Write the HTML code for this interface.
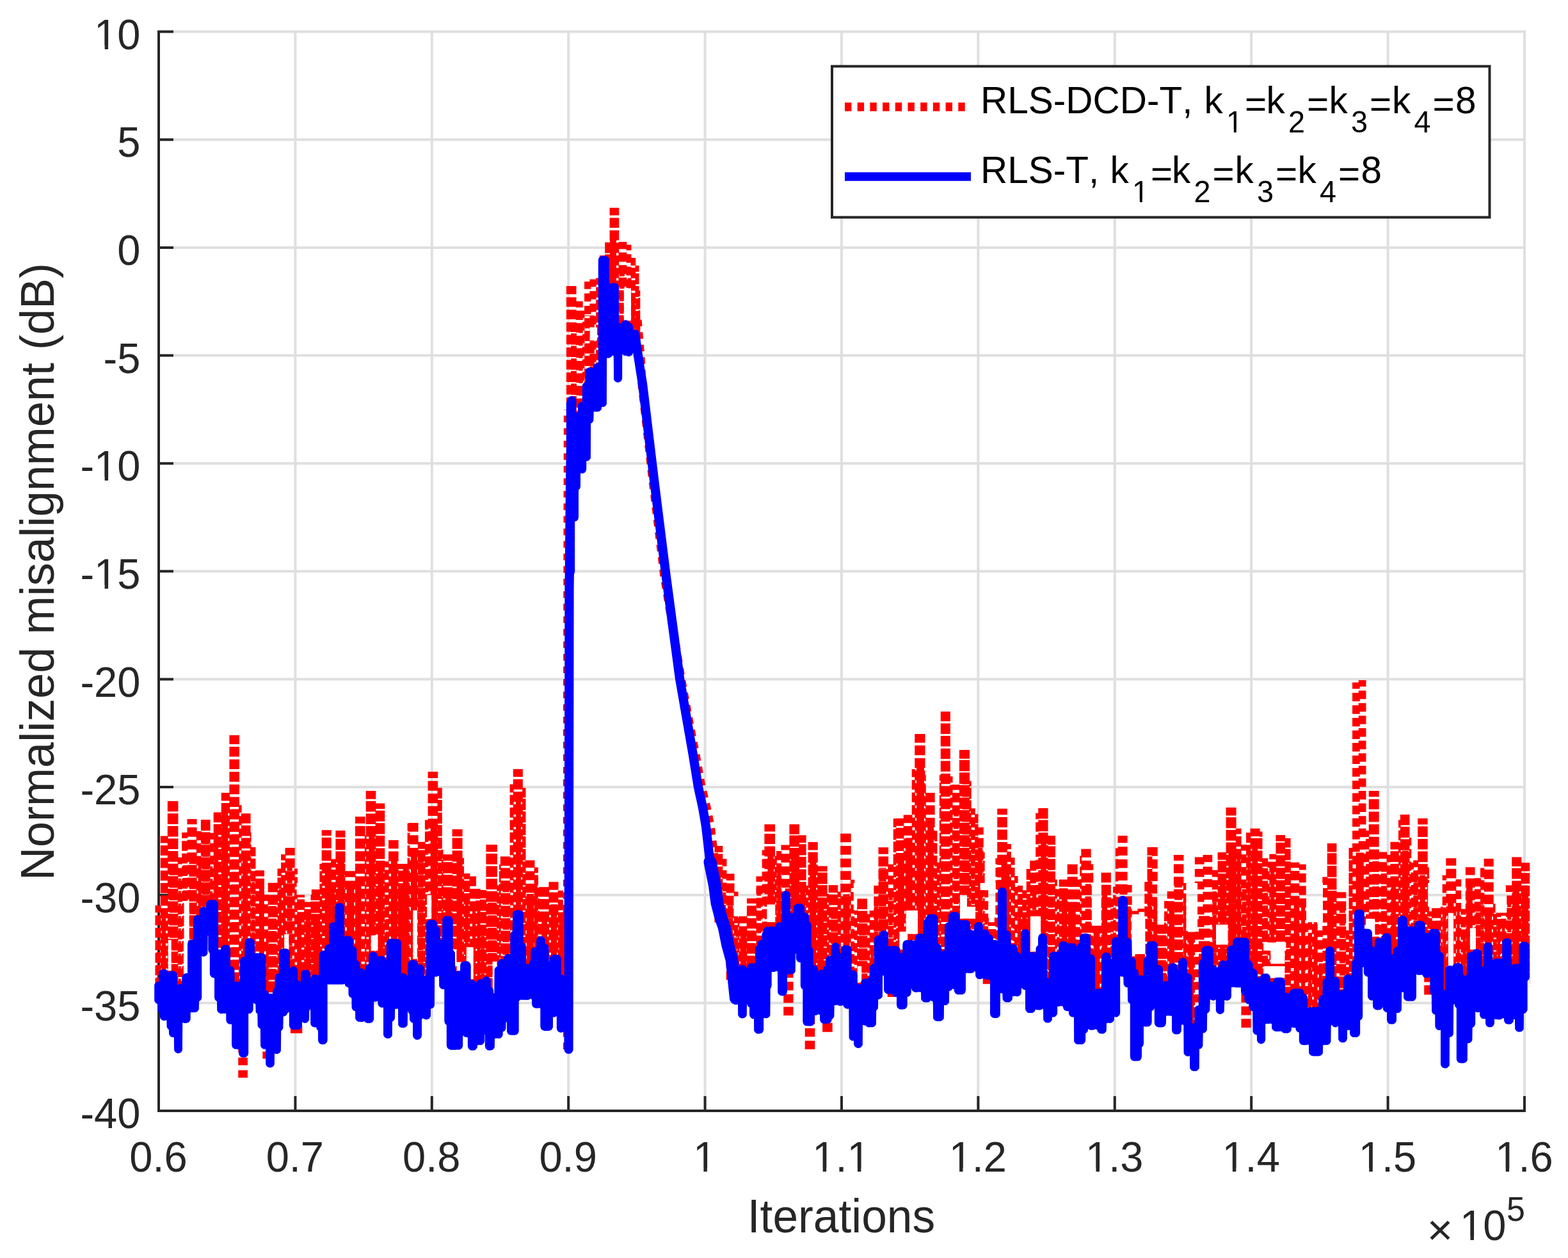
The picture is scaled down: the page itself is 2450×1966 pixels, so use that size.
<!DOCTYPE html>
<html><head><meta charset="utf-8"><title>Normalized misalignment</title>
<style>html,body{margin:0;padding:0;background:#fff}svg{display:block}</style></head>
<body>
<svg width="2450" height="1966" viewBox="0 0 2450 1966" font-family='"Liberation Sans", sans-serif' style="font-kerning:none">
<rect width="2450" height="1966" fill="#fff"/>
<path d="M248.0 47.6V1736.0M461.4 47.6V1736.0M674.8 47.6V1736.0M888.2 47.6V1736.0M1101.6 47.6V1736.0M1315.0 47.6V1736.0M1528.4 47.6V1736.0M1741.8 47.6V1736.0M1955.2 47.6V1736.0M2168.6 47.6V1736.0M2382.0 47.6V1736.0M248.0 49.6H2384.0M248.0 218.2H2384.0M248.0 386.9H2384.0M248.0 555.5H2384.0M248.0 724.2H2384.0M248.0 892.8H2384.0M248.0 1061.4H2384.0M248.0 1230.1H2384.0M248.0 1398.7H2384.0M248.0 1567.4H2384.0M248.0 1736.0H2384.0" stroke="#dfdfdf" stroke-width="4" fill="none"/>
<path d="M248.0 47.6V1738.0M246.0 1736.0H2384.0M461.4 1736.0v-23M674.8 1736.0v-23M888.2 1736.0v-23M1101.6 1736.0v-23M1315.0 1736.0v-23M1528.4 1736.0v-23M1741.8 1736.0v-23M1955.2 1736.0v-23M2168.6 1736.0v-23M2382.0 1736.0v-23M248.0 49.6h23M248.0 218.2h23M248.0 386.9h23M248.0 555.5h23M248.0 724.2h23M248.0 892.8h23M248.0 1061.4h23M248.0 1230.1h23M248.0 1398.7h23M248.0 1567.4h23" stroke="#262626" stroke-width="4" fill="none"/>
<g fill="none" stroke="#ff0000">
<clipPath id="rc"><path clip-rule="evenodd" d="M230.0 1760.0L241.0 1760.0L241.0 1551.6L246.0 1551.6L246.0 1559.0L248.0 1559.0L248.0 1549.3L251.0 1549.3L251.0 1554.9L261.0 1554.9L261.0 1562.3L262.0 1562.3L262.0 1563.7L268.0 1563.7L268.0 1569.2L272.0 1569.2L272.0 1581.8L273.0 1581.8L273.0 1596.6L275.0 1596.6L275.0 1592.0L285.0 1592.0L285.0 1568.3L286.0 1568.3L286.0 1560.0L293.0 1560.0L293.0 1537.7L286.8 1537.7L286.8 1469.1L287.3 1469.1L287.3 1409.7L295.7 1409.7L295.7 1469.1L294.2 1469.1L294.2 1533.5L296.0 1533.5L296.0 1525.2L303.0 1525.2L303.0 1506.2L311.0 1506.2L311.0 1497.8L314.0 1497.8L314.0 1456.1L322.0 1456.1L322.0 1434.9L326.0 1434.9L326.0 1448.8L331.0 1448.8L331.0 1467.4L335.0 1467.4L335.0 1485.9L338.0 1485.9L338.0 1524.7L339.0 1524.7L339.0 1534.0L345.0 1534.0L345.0 1530.3L354.0 1530.3L354.0 1538.6L360.0 1538.6L360.0 1555.3L362.0 1555.3L362.0 1574.8L366.0 1574.8L366.0 1586.9L373.0 1586.9L373.0 1593.4L376.0 1593.4L376.0 1573.9L384.0 1573.9L384.0 1559.5L387.0 1559.5L387.0 1525.2L394.0 1525.2L394.0 1517.8L398.0 1517.8L398.0 1529.4L400.0 1529.4L400.0 1537.7L406.0 1537.7L406.0 1548.8L409.0 1548.8L409.0 1564.6L412.0 1564.6L412.0 1593.4L415.0 1593.4L415.0 1607.7L418.0 1607.7L418.0 1610.5L427.0 1610.5L427.0 1605.9L429.0 1605.9L429.0 1595.2L433.0 1595.2L433.0 1584.1L438.0 1584.1L438.0 1566.5L439.0 1566.5L439.0 1535.6L446.0 1535.6L446.0 1533.2L453.0 1533.2L453.0 1559.5L464.0 1559.5L464.0 1570.6L471.0 1570.6L471.0 1562.3L472.0 1562.3L472.0 1557.2L482.0 1557.2L482.0 1548.8L485.0 1548.8L485.0 1564.1L494.0 1564.1L494.0 1567.4L497.0 1567.4L497.0 1577.6L499.0 1577.6L499.0 1559.0L507.0 1559.0L507.0 1553.9L511.0 1553.9L511.0 1507.1L514.0 1507.1L514.0 1489.9L523.0 1489.9L523.0 1474.9L538.0 1474.9L538.0 1500.6L541.0 1500.6L541.0 1502.9L548.0 1502.9L548.0 1511.3L549.0 1511.3L549.0 1519.1L554.0 1519.1L554.0 1540.5L555.0 1540.5L555.0 1548.8L558.0 1548.8L558.0 1555.3L568.0 1555.3L568.0 1556.3L572.0 1556.3L572.0 1552.5L576.0 1552.5L576.0 1543.1L583.0 1543.1L583.0 1526.4L590.0 1526.4L590.0 1529.8L593.0 1529.8L593.0 1534.5L599.0 1534.5L599.0 1558.6L601.0 1558.6L601.0 1575.7L606.0 1575.7L606.0 1545.1L613.0 1545.1L613.0 1532.1L615.0 1532.1L615.0 1521.9L622.0 1521.9L622.0 1536.8L627.0 1536.8L627.0 1563.7L637.0 1563.7L637.0 1543.1L641.0 1543.1L641.0 1549.6L645.0 1549.6L645.0 1562.6L652.0 1562.6L652.0 1566.0L659.0 1566.0L659.0 1550.2L663.0 1550.2L663.0 1559.0L668.0 1559.0L668.0 1515.3L673.0 1515.3L673.0 1506.9L677.0 1506.9L677.0 1481.9L683.0 1481.9L683.0 1486.7L686.0 1486.7L686.0 1496.4L688.0 1496.4L688.0 1506.6L691.0 1506.6L691.0 1488.7L697.0 1488.7L697.0 1517.0L701.0 1517.0L701.0 1536.0L705.0 1536.0L705.0 1562.3L708.0 1562.3L708.0 1575.3L711.0 1575.3L711.0 1592.0L714.0 1592.0L714.0 1579.0L719.0 1579.0L719.0 1553.3L725.0 1553.3L725.0 1561.6L732.0 1561.6L732.0 1571.8L733.0 1571.8L733.0 1586.4L743.0 1586.4L743.0 1598.9L746.0 1598.9L746.0 1594.7L748.0 1594.7L748.0 1581.8L753.0 1581.8L753.0 1571.7L758.0 1571.7L758.0 1583.8L767.0 1583.8L767.0 1591.5L771.0 1591.5L771.0 1597.1L773.0 1597.1L773.0 1587.8L777.0 1587.8L777.0 1566.5L781.0 1566.5L781.0 1555.8L787.0 1555.8L787.0 1544.5L792.0 1544.5L792.0 1554.4L801.0 1554.4L801.0 1536.0L804.0 1536.0L804.0 1520.1L807.0 1520.1L807.0 1493.9L811.0 1493.9L811.0 1492.5L818.0 1492.5L818.0 1517.8L822.0 1517.8L822.0 1534.5L827.0 1534.5L827.0 1530.7L829.0 1530.7L829.0 1521.5L831.0 1521.5L831.0 1528.0L838.0 1528.0L838.0 1519.4L847.0 1519.4L847.0 1537.1L852.0 1537.1L852.0 1542.8L855.0 1542.8L855.0 1555.8L859.0 1555.8L859.0 1564.1L862.0 1564.1L862.0 1551.4L864.0 1551.4L864.0 1540.8L869.0 1540.8L869.0 1534.3L872.0 1534.3L872.0 1552.8L877.0 1552.8L877.0 1568.3L881.0 1568.3L881.0 1760.0L886.0 1760.0L886.0 761.6L897.0 761.6L897.0 719.2L900.0 719.2L900.0 729.9L904.0 729.9L904.0 705.8L906.0 705.8L906.0 697.4L907.0 697.4L907.0 684.0L913.0 684.0L913.0 674.2L914.0 674.2L914.0 658.7L916.0 658.7L916.0 647.4L919.0 647.4L919.0 618.2L926.0 618.2L926.0 608.9L930.0 608.9L930.0 605.4L937.0 605.4L937.0 518.0L946.0 518.0L946.0 479.8L952.0 479.8L952.0 500.8L957.0 500.8L957.0 499.0L959.0 499.0L959.0 519.9L967.0 519.9L967.0 550.9L971.0 550.9L971.0 548.9L972.0 548.9L972.0 528.0L976.0 528.0L976.0 528.5L984.0 528.5L984.0 530.5L989.0 530.5L989.0 1760.0L1153.0 1760.0L1153.0 1549.8L1167.0 1549.8L1167.0 1540.0L1171.0 1540.0L1171.0 1548.8L1178.0 1548.8L1178.0 1560.4L1181.0 1560.4L1181.0 1546.0L1183.0 1546.0L1183.0 1542.3L1192.0 1542.3L1192.0 1530.3L1196.0 1530.3L1196.0 1522.9L1197.0 1522.9L1197.0 1519.8L1198.0 1519.8L1198.0 1497.5L1201.0 1497.5L1201.0 1483.6L1211.0 1483.6L1211.0 1480.2L1215.0 1480.2L1215.0 1498.7L1221.0 1498.7L1221.0 1474.2L1230.0 1474.2L1230.0 1457.5L1235.0 1457.5L1235.0 1474.6L1240.0 1474.6L1240.0 1467.5L1243.0 1467.5L1243.0 1451.7L1246.0 1451.7L1246.0 1458.2L1255.0 1458.2L1255.0 1486.7L1259.0 1486.7L1259.0 1515.0L1260.0 1515.0L1260.0 1521.5L1263.0 1521.5L1263.0 1540.9L1269.0 1540.9L1269.0 1555.8L1273.0 1555.8L1273.0 1547.4L1278.0 1547.4L1278.0 1551.2L1281.0 1551.2L1281.0 1557.6L1291.0 1557.6L1291.0 1553.9L1294.0 1553.9L1294.0 1546.5L1295.0 1546.5L1295.0 1543.3L1299.0 1543.3L1299.0 1533.2L1300.0 1533.2L1300.0 1522.1L1306.0 1522.1L1306.0 1522.6L1312.0 1522.6L1312.0 1530.7L1314.0 1530.7L1314.0 1524.5L1319.0 1524.5L1319.0 1526.8L1327.0 1526.8L1327.0 1551.9L1329.0 1551.9L1329.0 1571.6L1334.0 1571.6L1334.0 1577.1L1339.0 1577.1L1339.0 1587.8L1345.0 1587.8L1345.0 1583.6L1348.0 1583.6L1348.0 1566.0L1351.0 1566.0L1351.0 1567.4L1360.0 1567.4L1360.0 1565.1L1363.0 1565.1L1363.0 1555.8L1365.0 1555.8L1365.0 1543.3L1368.0 1543.3L1368.0 1534.0L1369.0 1534.0L1369.0 1511.7L1374.0 1511.7L1374.0 1508.0L1376.0 1508.0L1376.0 1489.5L1381.0 1489.5L1381.0 1503.8L1388.0 1503.8L1388.0 1515.9L1396.0 1515.9L1396.0 1518.2L1401.0 1518.2L1401.0 1528.0L1404.0 1528.0L1404.0 1541.9L1407.0 1541.9L1407.0 1533.1L1415.0 1533.1L1415.0 1513.6L1419.0 1513.6L1419.0 1507.1L1424.0 1507.1L1424.0 1509.9L1430.0 1509.9L1430.0 1504.8L1439.0 1504.8L1439.0 1512.7L1445.0 1512.7L1445.0 1501.1L1447.0 1501.1L1447.0 1497.5L1453.0 1497.5L1453.0 1478.5L1457.0 1478.5L1457.0 1497.1L1461.0 1497.1L1461.0 1535.4L1468.0 1535.4L1468.0 1554.9L1473.0 1554.9L1473.0 1540.5L1475.0 1540.5L1475.0 1528.0L1478.0 1528.0L1478.0 1506.2L1480.0 1506.2L1480.0 1495.0L1482.0 1495.0L1482.0 1487.0L1487.0 1487.0L1487.0 1463.8L1491.0 1463.8L1491.0 1486.0L1495.0 1486.0L1495.0 1496.0L1500.0 1496.0L1500.0 1496.1L1509.0 1496.1L1509.0 1479.4L1516.0 1479.4L1516.0 1487.1L1522.0 1487.1L1522.0 1480.9L1524.0 1480.9L1524.0 1485.6L1536.0 1485.6L1536.0 1491.3L1537.0 1491.3L1537.0 1491.8L1546.0 1491.8L1546.0 1495.5L1547.0 1495.5L1547.0 1525.5L1552.0 1525.5L1552.0 1530.1L1559.0 1530.1L1559.0 1489.0L1563.0 1489.0L1563.0 1469.7L1568.0 1469.7L1568.0 1476.7L1573.0 1476.7L1573.0 1510.3L1578.0 1510.3L1578.0 1521.0L1582.0 1521.0L1582.0 1516.4L1590.0 1516.4L1590.0 1522.4L1595.0 1522.4L1595.0 1504.6L1596.0 1504.6L1596.0 1499.5L1602.0 1499.5L1602.0 1517.6L1609.0 1517.6L1609.0 1535.6L1618.0 1535.6L1618.0 1533.2L1621.0 1533.2L1621.0 1527.5L1622.0 1527.5L1622.0 1518.7L1629.0 1518.7L1629.0 1516.8L1630.0 1516.8L1630.0 1528.7L1636.0 1528.7L1636.0 1563.5L1641.0 1563.5L1641.0 1542.9L1644.0 1542.9L1644.0 1538.4L1650.0 1538.4L1650.0 1530.1L1654.0 1530.1L1654.0 1521.9L1661.0 1521.9L1661.0 1525.6L1669.0 1525.6L1669.0 1527.2L1673.0 1527.2L1673.0 1531.9L1678.0 1531.9L1678.0 1553.2L1680.0 1553.2L1680.0 1582.2L1687.0 1582.2L1687.0 1552.5L1690.0 1552.5L1690.0 1545.6L1692.0 1545.6L1692.0 1537.2L1697.0 1537.2L1697.0 1521.5L1700.0 1521.5L1700.0 1534.3L1704.0 1534.3L1704.0 1550.5L1709.0 1550.5L1709.0 1577.4L1714.0 1577.4L1714.0 1580.4L1721.0 1580.4L1721.0 1552.1L1729.0 1552.1L1729.0 1543.7L1736.0 1543.7L1736.0 1548.8L1740.0 1548.8L1740.0 1531.7L1741.0 1531.7L1741.0 1527.0L1747.0 1527.0L1747.0 1463.3L1756.0 1463.3L1756.0 1471.7L1762.0 1471.7L1762.0 1504.3L1763.0 1504.3L1763.0 1517.3L1768.0 1517.3L1768.0 1532.6L1769.0 1532.6L1769.0 1577.1L1774.0 1577.1L1774.0 1585.9L1776.0 1585.9L1776.0 1591.3L1784.0 1591.3L1784.0 1581.1L1787.0 1581.1L1787.0 1564.4L1789.0 1564.4L1789.0 1549.8L1794.0 1549.8L1794.0 1537.7L1797.0 1537.7L1797.0 1525.6L1801.0 1525.6L1801.0 1510.8L1806.0 1510.8L1806.0 1538.2L1809.0 1538.2L1809.0 1556.7L1815.0 1556.7L1815.0 1569.2L1822.0 1569.2L1822.0 1560.4L1825.0 1560.4L1825.0 1546.5L1831.0 1546.5L1831.0 1560.9L1840.0 1560.9L1840.0 1566.0L1841.0 1566.0L1841.0 1556.7L1846.0 1556.7L1846.0 1549.3L1851.0 1549.3L1851.0 1573.9L1855.0 1573.9L1855.0 1585.9L1859.0 1585.9L1859.0 1597.5L1861.0 1597.5L1861.0 1636.5L1868.0 1636.5L1868.0 1622.6L1874.0 1622.6L1874.0 1605.4L1875.0 1605.4L1875.0 1569.2L1878.0 1569.2L1878.0 1556.7L1880.0 1556.7L1880.0 1546.5L1884.0 1546.5L1884.0 1531.2L1888.0 1531.2L1888.0 1518.2L1891.0 1518.2L1891.0 1521.0L1896.0 1521.0L1896.0 1535.8L1900.0 1535.8L1900.0 1547.4L1904.0 1547.4L1904.0 1543.0L1913.0 1543.0L1913.0 1532.3L1917.0 1532.3L1917.0 1520.5L1924.0 1520.5L1924.0 1510.3L1926.0 1510.3L1926.0 1504.3L1940.0 1504.3L1940.0 1510.8L1946.0 1510.8L1946.0 1517.3L1951.0 1517.3L1951.0 1534.9L1954.0 1534.9L1954.0 1540.5L1956.0 1540.5L1956.0 1547.0L1960.0 1547.0L1960.0 1565.5L1962.0 1565.5L1962.0 1572.0L1964.0 1572.0L1964.0 1579.0L1968.0 1579.0L1968.0 1579.9L1971.0 1579.9L1971.0 1576.4L1977.0 1576.4L1977.0 1561.1L1980.0 1561.1L1980.0 1560.6L1985.0 1560.6L1985.0 1566.9L1987.0 1566.9L1987.0 1572.9L1989.0 1572.9L1989.0 1569.7L2001.0 1569.7L2001.0 1571.1L2008.0 1571.1L2008.0 1583.2L2015.0 1583.2L2015.0 1579.9L2018.0 1579.9L2018.0 1575.7L2028.0 1575.7L2028.0 1579.4L2033.0 1579.4L2033.0 1589.2L2034.0 1589.2L2034.0 1592.9L2040.0 1592.9L2040.0 1603.6L2045.0 1603.6L2045.0 1612.2L2054.0 1612.2L2054.0 1611.7L2060.0 1611.7L2060.0 1602.9L2067.0 1602.9L2067.0 1594.3L2068.0 1594.3L2068.0 1580.8L2071.0 1580.8L2071.0 1556.3L2078.0 1556.3L2078.0 1540.9L2081.0 1540.9L2081.0 1542.3L2085.0 1542.3L2085.0 1566.0L2091.0 1566.0L2091.0 1578.1L2092.0 1578.1L2092.0 1588.3L2099.0 1588.3L2099.0 1576.2L2105.0 1576.2L2105.0 1566.5L2109.0 1566.5L2109.0 1572.0L2113.0 1572.0L2113.0 1560.0L2118.0 1560.0L2118.0 1521.2L2124.0 1521.2L2124.0 1508.2L2127.0 1508.2L2127.0 1466.9L2132.0 1466.9L2132.0 1482.0L2133.0 1482.0L2133.0 1489.0L2137.0 1489.0L2137.0 1507.6L2142.0 1507.6L2142.0 1521.5L2145.0 1521.5L2145.0 1528.9L2150.0 1528.9L2150.0 1521.9L2159.0 1521.9L2159.0 1508.2L2162.0 1508.2L2162.0 1520.3L2167.0 1520.3L2167.0 1529.5L2173.0 1529.5L2173.0 1546.0L2178.0 1546.0L2178.0 1540.0L2182.0 1540.0L2182.0 1531.2L2184.0 1531.2L2184.0 1507.1L2189.0 1507.1L2189.0 1490.9L2193.0 1490.9L2193.0 1497.8L2199.0 1497.8L2199.0 1506.2L2210.0 1506.2L2210.0 1501.8L2213.0 1501.8L2213.0 1481.4L2222.0 1481.4L2222.0 1483.7L2227.0 1483.7L2227.0 1493.2L2232.0 1493.2L2232.0 1489.9L2236.0 1489.9L2236.0 1503.8L2241.0 1503.8L2241.0 1518.7L2246.0 1518.7L2246.0 1548.4L2251.0 1548.4L2251.0 1578.1L2252.0 1578.1L2252.0 1608.2L2261.0 1608.2L2261.0 1589.2L2265.0 1589.2L2265.0 1565.1L2268.0 1565.1L2268.0 1540.9L2269.0 1540.9L2269.0 1539.1L2272.0 1539.1L2272.0 1533.5L2276.0 1533.5L2276.0 1540.9L2278.0 1540.9L2278.0 1583.4L2283.0 1583.4L2283.0 1591.3L2287.0 1591.3L2287.0 1601.5L2291.0 1601.5L2291.0 1592.2L2293.0 1592.2L2293.0 1576.7L2297.0 1576.7L2297.0 1547.0L2300.0 1547.0L2300.0 1520.5L2305.0 1520.5L2305.0 1532.6L2312.0 1532.6L2312.0 1537.7L2313.0 1537.7L2313.0 1551.2L2318.0 1551.2L2318.0 1532.6L2321.0 1532.6L2321.0 1539.1L2332.0 1539.1L2332.0 1551.6L2335.0 1551.6L2335.0 1545.6L2347.0 1545.6L2347.0 1529.8L2350.0 1529.8L2350.0 1533.5L2362.0 1533.5L2362.0 1553.5L2365.0 1553.5L2365.0 1549.8L2367.0 1549.8L2367.0 1559.5L2375.0 1559.5L2375.0 1542.3L2381.0 1542.3L2381.0 1528.0L2385.0 1528.0L2385.0 1502.9L2390.0 1502.9L2390.0 1760.0L2406.0 1760.0L2406.0 0.0L225.0 0.0ZM986.0 450.6L986.0 501.3L974.7 501.3L974.7 450.6ZM933.1 511.5L933.1 531.9L921.4 531.9L921.4 511.5ZM486.8 1380.0L486.8 1398.6L463.6 1398.6L463.6 1380.0ZM667.1 1398.6L674.5 1398.6L674.5 1435.7L667.1 1435.7ZM651.9 1422.7L651.9 1498.7L645.2 1498.7L645.2 1422.7ZM451.5 1459.8L451.5 1483.9L444.1 1483.9L444.1 1459.8ZM590.6 1461.6L590.6 1485.8L579.5 1485.8L579.5 1461.6ZM262.6 1469.1L267.8 1469.1L267.8 1517.3L262.6 1517.3ZM707.9 1483.9L713.5 1483.9L713.5 1503.4L728.3 1503.4L728.3 1517.3L713.5 1517.3L713.5 1509.9L707.9 1509.9ZM739.8 1480.2L739.8 1530.3L728.7 1530.3L728.7 1480.2ZM769.5 1502.4L776.6 1502.4L776.6 1552.5L769.5 1552.5ZM1151.9 1380.0L1181.6 1380.0L1181.6 1387.4L1151.9 1387.4ZM1555.7 1380.0L1555.7 1391.1L1531.5 1391.1L1531.5 1380.0ZM1333.8 1422.7L1333.8 1380.0L1339.3 1380.0L1355.1 1380.0L1365.3 1380.0L1365.3 1422.7L1355.1 1422.7L1355.1 1404.1L1339.3 1404.1L1339.3 1422.7ZM1146.4 1400.4L1166.8 1400.4L1166.8 1431.9L1146.4 1431.9ZM1500.0 1398.6L1511.1 1398.6L1511.1 1417.1L1524.1 1417.1L1524.1 1435.7L1511.1 1435.7L1500.0 1435.7ZM1211.3 1413.4L1211.3 1441.2L1198.3 1441.2L1198.3 1413.4ZM1553.8 1417.1L1553.8 1441.2L1544.9 1441.2L1544.9 1417.1ZM1415.4 1422.7L1434.0 1422.7L1434.0 1459.8L1418.2 1459.8L1418.2 1483.9L1405.2 1483.9L1405.2 1456.1L1415.4 1456.1ZM1609.8 1431.9L1626.2 1431.9L1626.2 1487.6L1609.8 1487.6ZM1346.4 1509.9L1346.4 1535.8L1339.7 1535.8L1339.7 1509.9ZM2252.5 1380.0L2252.5 1417.1L2231.2 1417.1L2231.2 1380.0ZM2041.0 1380.0L2067.0 1380.0L2067.0 1441.2L2041.0 1441.2ZM1808.3 1380.0L1819.1 1380.0L1819.1 1444.9L1808.3 1444.9ZM2354.3 1398.6L2354.3 1426.4L2336.6 1426.4L2336.6 1398.6ZM1720.8 1380.0L1720.8 1446.8L1705.9 1446.8L1705.9 1380.0ZM1871.1 1380.0L1871.1 1454.2L1853.4 1454.2L1853.4 1380.0ZM2134.1 1435.7L2148.6 1435.7L2148.6 1463.5L2134.1 1463.5ZM1900.0 1444.9L1918.6 1444.9L1918.6 1476.5L1900.0 1476.5ZM1789.4 1431.9L1789.4 1491.3L1768.1 1491.3L1768.1 1431.9ZM2296.8 1450.5L2306.0 1450.5L2306.0 1483.9L2296.8 1483.9ZM2262.7 1426.4L2271.1 1426.4L2271.1 1509.9L2262.7 1509.9ZM1974.2 1485.8L1974.2 1472.8L2009.5 1472.8L2009.5 1485.8L2007.6 1485.8L2007.6 1506.2L1985.3 1506.2L1985.3 1485.8ZM1974.2 1509.9L2007.6 1509.9L2007.6 1528.4L1974.2 1528.4Z"/></clipPath>
<g clip-path="url(#rc)">
<path d="M247.0 1415.0V1559.0" stroke-width="9.1" stroke-dasharray="15.5 4.1" stroke-dashoffset="4.2"/>
<path d="M247.4 1472.0V1559.0" stroke-width="5.9" stroke-dasharray="16.1 3.5" stroke-dashoffset="3.6"/>
<path d="M256.7 1306.5V1562.3" stroke-width="11.9" stroke-dasharray="15.8 3.8" stroke-dashoffset="4.9"/>
<path d="M256.0 1426.9V1562.3" stroke-width="6.3" stroke-dasharray="13.9 5.7" stroke-dashoffset="15.9"/>
<path d="M270.1 1252.1V1596.6" stroke-width="16.6" stroke-dasharray="16.6 3.0" stroke-dashoffset="0.4"/>
<path d="M271.1 1354.6V1596.6" stroke-width="13.1" stroke-dasharray="16.3 3.3" stroke-dashoffset="3.1"/>
<path d="M281.3 1339.9V1592.0" stroke-width="7.3" stroke-dasharray="13.6 6.0" stroke-dashoffset="2.9"/>
<path d="M280.8 1362.2V1592.0" stroke-width="4.1" stroke-dasharray="13.6 6.0" stroke-dashoffset="9.1"/>
<path d="M288.7 1300.9V1568.3" stroke-width="9.1" stroke-dasharray="15.5 4.1" stroke-dashoffset="6.3"/>
<path d="M289.1 1341.7V1568.3" stroke-width="6.3" stroke-dasharray="16.5 3.1" stroke-dashoffset="9.0"/>
<path d="M300.0 1280.1V1533.5" stroke-width="15.1" stroke-dasharray="14.8 4.8" stroke-dashoffset="6.7"/>
<path d="M301.2 1339.9V1533.5" stroke-width="11.3" stroke-dasharray="14.9 4.7" stroke-dashoffset="4.5"/>
<path d="M310.7 1299.0V1506.2" stroke-width="7.9" stroke-dasharray="14.8 4.8" stroke-dashoffset="0.5"/>
<path d="M312.1 1349.7V1506.2" stroke-width="4.9" stroke-dasharray="15.2 4.4" stroke-dashoffset="18.8"/>
<path d="M321.2 1281.0V1456.1" stroke-width="14.7" stroke-dasharray="17.3 2.3" stroke-dashoffset="0.0"/>
<path d="M321.5 1309.4V1456.1" stroke-width="11.4" stroke-dasharray="17.9 1.7" stroke-dashoffset="7.8"/>
<path d="M331.1 1301.8V1467.4" stroke-width="6.7" stroke-dasharray="13.8 5.8" stroke-dashoffset="3.7"/>
<path d="M330.3 1353.0V1467.4" stroke-width="3.9" stroke-dasharray="15.0 4.6" stroke-dashoffset="18.9"/>
<path d="M340.1 1269.4V1534.0" stroke-width="12.9" stroke-dasharray="16.9 2.7" stroke-dashoffset="1.1"/>
<path d="M337.8 1299.2V1534.0" stroke-width="6.8" stroke-dasharray="17.1 2.5" stroke-dashoffset="3.5"/>
<path d="M352.4 1239.1V1538.6" stroke-width="13.4" stroke-dasharray="16.0 3.6" stroke-dashoffset="3.6"/>
<path d="M351.4 1266.7V1538.6" stroke-width="9.7" stroke-dasharray="16.4 3.2" stroke-dashoffset="2.3"/>
<path d="M366.2 1149.1V1593.4" stroke-width="15.6" stroke-dasharray="15.4 4.2" stroke-dashoffset="1.6"/>
<path d="M367.6 1262.3V1593.4" stroke-width="12.4" stroke-dasharray="14.9 4.7" stroke-dashoffset="17.3"/>
<path d="M375.4 1258.2V1593.4" stroke-width="4.5" stroke-dasharray="14.4 5.2" stroke-dashoffset="2.5"/>
<path d="M384.2 1271.2V1573.9" stroke-width="14.7" stroke-dasharray="16.4 3.2" stroke-dashoffset="0.8"/>
<path d="M383.1 1330.8V1573.9" stroke-width="8.3" stroke-dasharray="17.0 2.6" stroke-dashoffset="6.4"/>
<path d="M391.7 1300.9V1525.2" stroke-width="1.7" stroke-dasharray="14.8 4.8" stroke-dashoffset="0.5"/>
<path d="M395.6 1324.1V1529.4" stroke-width="7.7" stroke-dasharray="16.1 3.5" stroke-dashoffset="2.0"/>
<path d="M395.8 1368.1V1529.4" stroke-width="4.7" stroke-dasharray="17.8 1.8" stroke-dashoffset="9.5"/>
<path d="M405.8 1360.3V1593.4" stroke-width="14.3" stroke-dasharray="16.1 3.5" stroke-dashoffset="7.0"/>
<path d="M408.8 1387.6V1593.4" stroke-width="7.8" stroke-dasharray="17.2 2.4" stroke-dashoffset="4.9"/>
<path d="M415.8 1398.3V1610.5" stroke-width="7.3" stroke-dasharray="14.4 5.2" stroke-dashoffset="4.7"/>
<path d="M417.6 1455.9V1610.5" stroke-width="4.1" stroke-dasharray="17.5 2.1" stroke-dashoffset="11.8"/>
<path d="M426.5 1379.7V1610.5" stroke-width="15.6" stroke-dasharray="15.4 4.2" stroke-dashoffset="0.8"/>
<path d="M426.0 1401.3V1610.5" stroke-width="12.3" stroke-dasharray="16.7 2.9" stroke-dashoffset="5.0"/>
<path d="M436.7 1357.5V1584.1" stroke-width="6.4" stroke-dasharray="17.2 2.4" stroke-dashoffset="5.5"/>
<path d="M437.7 1389.2V1584.1" stroke-width="3.5" stroke-dasharray="13.8 5.8" stroke-dashoffset="4.5"/>
<path d="M442.7 1335.2V1535.6" stroke-width="7.3" stroke-dasharray="16.0 3.6" stroke-dashoffset="6.8"/>
<path d="M444.4 1379.8V1535.6" stroke-width="4.3" stroke-dasharray="14.4 5.2" stroke-dashoffset="0.3"/>
<path d="M453.1 1325.0V1559.5" stroke-width="15.1" stroke-dasharray="14.7 4.9" stroke-dashoffset="3.0"/>
<path d="M452.6 1347.4V1559.5" stroke-width="8.3" stroke-dasharray="16.1 3.5" stroke-dashoffset="2.6"/>
<path d="M462.4 1357.5V1559.5" stroke-width="5.1" stroke-dasharray="15.1 4.5" stroke-dashoffset="6.4"/>
<path d="M470.1 1391.8V1570.6" stroke-width="11.9" stroke-dasharray="16.5 3.1" stroke-dashoffset="5.8"/>
<path d="M467.9 1435.2V1570.6" stroke-width="6.5" stroke-dasharray="13.6 6.0" stroke-dashoffset="17.8"/>
<path d="M480.7 1409.4V1564.1" stroke-width="11.0" stroke-dasharray="16.7 2.9" stroke-dashoffset="8.3"/>
<path d="M481.1 1430.3V1564.1" stroke-width="7.6" stroke-dasharray="16.8 2.8" stroke-dashoffset="6.3"/>
<path d="M492.8 1389.9V1577.6" stroke-width="14.7" stroke-dasharray="18.0 1.6" stroke-dashoffset="0.8"/>
<path d="M494.8 1431.8V1577.6" stroke-width="10.6" stroke-dasharray="16.8 2.8" stroke-dashoffset="13.8"/>
<path d="M501.4 1350.1V1559.0" stroke-width="4.1" stroke-dasharray="17.1 2.5" stroke-dashoffset="8.3"/>
<path d="M510.2 1297.2V1559.0" stroke-width="15.1" stroke-dasharray="16.6 3.0" stroke-dashoffset="7.7"/>
<path d="M512.3 1352.0V1559.0" stroke-width="9.4" stroke-dasharray="17.4 2.2" stroke-dashoffset="11.2"/>
<path d="M521.1 1342.6V1489.9" stroke-width="8.2" stroke-dasharray="16.3 3.3" stroke-dashoffset="3.2"/>
<path d="M520.4 1385.9V1489.9" stroke-width="5.6" stroke-dasharray="16.4 3.2" stroke-dashoffset="19.5"/>
<path d="M531.9 1298.1V1500.6" stroke-width="15.1" stroke-dasharray="17.5 2.1" stroke-dashoffset="6.9"/>
<path d="M532.7 1333.6V1500.6" stroke-width="10.9" stroke-dasharray="15.5 4.1" stroke-dashoffset="16.4"/>
<path d="M547.2 1361.2V1540.5" stroke-width="17.1" stroke-dasharray="13.9 5.7" stroke-dashoffset="4.4"/>
<path d="M547.5 1382.4V1540.5" stroke-width="11.7" stroke-dasharray="14.5 5.1" stroke-dashoffset="13.7"/>
<path d="M562.8 1276.2V1556.3" stroke-width="15.6" stroke-dasharray="15.7 3.9" stroke-dashoffset="4.8"/>
<path d="M560.0 1375.0V1556.3" stroke-width="9.0" stroke-dasharray="14.9 4.7" stroke-dashoffset="13.3"/>
<path d="M571.2 1305.5V1556.3" stroke-width="2.7" stroke-dasharray="14.4 5.2" stroke-dashoffset="1.1"/>
<path d="M579.5 1236.0V1552.5" stroke-width="15.6" stroke-dasharray="16.5 3.1" stroke-dashoffset="3.7"/>
<path d="M581.0 1291.6V1552.5" stroke-width="9.4" stroke-dasharray="14.4 5.2" stroke-dashoffset="8.4"/>
<path d="M593.9 1255.4V1558.6" stroke-width="14.7" stroke-dasharray="17.1 2.5" stroke-dashoffset="8.3"/>
<path d="M594.8 1359.5V1558.6" stroke-width="9.1" stroke-dasharray="14.9 4.7" stroke-dashoffset="2.7"/>
<path d="M604.1 1346.3V1575.7" stroke-width="7.3" stroke-dasharray="15.7 3.9" stroke-dashoffset="6.5"/>
<path d="M605.4 1400.3V1575.7" stroke-width="5.2" stroke-dasharray="14.7 4.9" stroke-dashoffset="3.3"/>
<path d="M614.8 1312.9V1545.1" stroke-width="15.6" stroke-dasharray="15.5 4.1" stroke-dashoffset="2.1"/>
<path d="M615.9 1341.5V1545.1" stroke-width="9.8" stroke-dasharray="15.7 3.9" stroke-dashoffset="6.2"/>
<path d="M629.6 1350.1V1563.7" stroke-width="15.6" stroke-dasharray="17.3 2.3" stroke-dashoffset="9.1"/>
<path d="M626.5 1388.2V1563.7" stroke-width="8.2" stroke-dasharray="17.4 2.2" stroke-dashoffset="0.8"/>
<path d="M638.5 1287.0V1543.1" stroke-width="3.8" stroke-dasharray="16.7 2.9" stroke-dashoffset="5.0"/>
<path d="M634.2 1350.1V1563.7" stroke-width="9.1" stroke-dasharray="17.1 2.5" stroke-dashoffset="0.2"/>
<path d="M633.0 1375.5V1563.7" stroke-width="5.8" stroke-dasharray="17.2 2.4" stroke-dashoffset="4.7"/>
<path d="M645.8 1286.0V1566.0" stroke-width="15.6" stroke-dasharray="14.1 5.5" stroke-dashoffset="0.3"/>
<path d="M646.9 1331.2V1566.0" stroke-width="9.9" stroke-dasharray="16.4 3.2" stroke-dashoffset="15.8"/>
<path d="M658.8 1315.7V1566.0" stroke-width="11.9" stroke-dasharray="17.8 1.8" stroke-dashoffset="6.7"/>
<path d="M657.8 1343.7V1566.0" stroke-width="7.7" stroke-dasharray="13.5 6.1" stroke-dashoffset="9.3"/>
<path d="M666.6 1281.4V1559.0" stroke-width="5.4" stroke-dasharray="16.7 2.9" stroke-dashoffset="1.6"/>
<path d="M676.4 1205.9V1515.3" stroke-width="15.6" stroke-dasharray="15.1 4.5" stroke-dashoffset="4.9"/>
<path d="M678.0 1289.2V1515.3" stroke-width="10.7" stroke-dasharray="15.3 4.3" stroke-dashoffset="15.5"/>
<path d="M687.1 1231.3V1506.6" stroke-width="7.3" stroke-dasharray="17.6 2.0" stroke-dashoffset="0.8"/>
<path d="M686.7 1341.8V1506.6" stroke-width="5.2" stroke-dasharray="15.5 4.1" stroke-dashoffset="12.3"/>
<path d="M691.2 1327.8V1506.6" stroke-width="2.7" stroke-dasharray="17.6 2.0" stroke-dashoffset="3.6"/>
<path d="M699.6 1335.2V1562.3" stroke-width="15.6" stroke-dasharray="17.5 2.1" stroke-dashoffset="7.5"/>
<path d="M700.8 1393.0V1562.3" stroke-width="10.0" stroke-dasharray="14.4 5.2" stroke-dashoffset="14.1"/>
<path d="M714.6 1295.9V1592.0" stroke-width="16.0" stroke-dasharray="17.2 2.4" stroke-dashoffset="5.9"/>
<path d="M717.8 1344.6V1592.0" stroke-width="9.0" stroke-dasharray="17.9 1.7" stroke-dashoffset="19.2"/>
<path d="M723.4 1340.8V1553.3" stroke-width="3.2" stroke-dasharray="15.9 3.7" stroke-dashoffset="6.3"/>
<path d="M729.3 1364.9V1586.4" stroke-width="10.1" stroke-dasharray="17.6 2.0" stroke-dashoffset="8.2"/>
<path d="M729.4 1398.8V1586.4" stroke-width="5.3" stroke-dasharray="16.0 3.6" stroke-dashoffset="15.1"/>
<path d="M738.7 1369.5V1598.9" stroke-width="10.4" stroke-dasharray="15.7 3.9" stroke-dashoffset="0.2"/>
<path d="M740.6 1421.9V1598.9" stroke-width="5.4" stroke-dasharray="14.3 5.3" stroke-dashoffset="6.6"/>
<path d="M746.9 1389.0V1598.9" stroke-width="7.5" stroke-dasharray="17.0 2.6" stroke-dashoffset="1.3"/>
<path d="M747.9 1415.0V1598.9" stroke-width="4.9" stroke-dasharray="17.3 2.3" stroke-dashoffset="13.5"/>
<path d="M755.0 1390.9V1583.8" stroke-width="10.4" stroke-dasharray="17.8 1.8" stroke-dashoffset="4.8"/>
<path d="M754.1 1448.8V1583.8" stroke-width="5.5" stroke-dasharray="15.9 3.7" stroke-dashoffset="5.7"/>
<path d="M768.2 1320.0V1597.1" stroke-width="17.5" stroke-dasharray="16.8 2.8" stroke-dashoffset="5.6"/>
<path d="M768.9 1398.7V1597.1" stroke-width="13.2" stroke-dasharray="14.9 4.7" stroke-dashoffset="7.5"/>
<path d="M778.4 1383.5V1566.5" stroke-width="4.5" stroke-dasharray="17.3 2.3" stroke-dashoffset="8.4"/>
<path d="M781.2 1351.0V1566.5" stroke-width="2.7" stroke-dasharray="17.3 2.3" stroke-dashoffset="9.0"/>
<path d="M789.6 1338.6V1555.8" stroke-width="15.6" stroke-dasharray="16.1 3.5" stroke-dashoffset="1.6"/>
<path d="M790.5 1380.0V1555.8" stroke-width="10.2" stroke-dasharray="13.6 6.0" stroke-dashoffset="19.0"/>
<path d="M799.6 1225.8V1554.4" stroke-width="6.0" stroke-dasharray="15.8 3.8" stroke-dashoffset="3.1"/>
<path d="M809.3 1202.0V1536.0" stroke-width="15.1" stroke-dasharray="16.0 3.6" stroke-dashoffset="3.9"/>
<path d="M810.0 1249.6V1536.0" stroke-width="7.8" stroke-dasharray="15.4 4.2" stroke-dashoffset="18.8"/>
<path d="M818.8 1231.3V1517.8" stroke-width="5.4" stroke-dasharray="17.7 1.9" stroke-dashoffset="2.6"/>
<path d="M828.1 1344.5V1534.5" stroke-width="14.7" stroke-dasharray="14.1 5.5" stroke-dashoffset="2.6"/>
<path d="M828.4 1397.1V1534.5" stroke-width="11.3" stroke-dasharray="14.9 4.7" stroke-dashoffset="3.8"/>
<path d="M837.8 1355.6V1528.0" stroke-width="6.4" stroke-dasharray="16.3 3.3" stroke-dashoffset="7.7"/>
<path d="M837.4 1380.8V1528.0" stroke-width="4.7" stroke-dasharray="14.4 5.2" stroke-dashoffset="4.5"/>
<path d="M841.5 1387.2V1519.4" stroke-width="2.7" stroke-dasharray="16.6 3.0" stroke-dashoffset="2.8"/>
<path d="M850.1 1386.2V1555.8" stroke-width="16.2" stroke-dasharray="16.3 3.3" stroke-dashoffset="0.9"/>
<path d="M850.6 1435.5V1555.8" stroke-width="8.7" stroke-dasharray="14.6 5.0" stroke-dashoffset="3.9"/>
<path d="M865.0 1378.3V1564.1" stroke-width="15.1" stroke-dasharray="15.9 3.7" stroke-dashoffset="3.4"/>
<path d="M865.5 1413.3V1564.1" stroke-width="9.4" stroke-dasharray="14.2 5.4" stroke-dashoffset="4.0"/>
<path d="M875.8 1391.8V1568.3" stroke-width="8.2" stroke-dasharray="16.3 3.3" stroke-dashoffset="5.3"/>
<path d="M876.5 1433.0V1568.3" stroke-width="6.2" stroke-dasharray="17.4 2.2" stroke-dashoffset="4.6"/>
<path d="M880.7 1424.3V1568.3" stroke-width="3.2" stroke-dasharray="16.8 2.8" stroke-dashoffset="7.2"/>
<path d="M892.7 447.1V761.6" stroke-width="15.6" stroke-dasharray="14.9 4.7" stroke-dashoffset="2.2"/>
<path d="M896.5 504.0V761.6" stroke-width="8.8" stroke-dasharray="17.5 2.1" stroke-dashoffset="2.6"/>
<path d="M905.2 470.7V729.9" stroke-width="11.0" stroke-dasharray="14.6 5.0" stroke-dashoffset="4.8"/>
<path d="M907.3 501.1V729.9" stroke-width="5.8" stroke-dasharray="15.4 4.2" stroke-dashoffset="15.5"/>
<path d="M911.7 485.5V684.0" stroke-width="3.6" stroke-dasharray="14.1 5.5" stroke-dashoffset="2.4"/>
<path d="M918.2 439.9V674.2" stroke-width="10.3" stroke-dasharray="12.9 6.7" stroke-dashoffset="1.1"/>
<path d="M926.5 436.4V674.2" stroke-width="10.3" stroke-dasharray="12.9 6.7" stroke-dashoffset="1.1"/>
<path d="M921.2 492.8V674.2" stroke-width="15.3" stroke-dasharray="15.8 3.8" stroke-dashoffset="14.9"/>
<path d="M934.4 434.5V605.4" stroke-width="6.4" stroke-dasharray="15.8 3.8" stroke-dashoffset="5.3"/>
<path d="M933.6 462.1V605.4" stroke-width="3.3" stroke-dasharray="13.7 5.9" stroke-dashoffset="10.8"/>
<path d="M941.4 399.3V518.0" stroke-width="9.1" stroke-dasharray="15.8 3.8" stroke-dashoffset="4.4"/>
<path d="M940.6 425.1V518.0" stroke-width="5.1" stroke-dasharray="17.3 2.3" stroke-dashoffset="19.4"/>
<path d="M949.3 378.8V500.8" stroke-width="8.2" stroke-dasharray="17.7 1.9" stroke-dashoffset="0.9"/>
<path d="M949.6 401.3V500.8" stroke-width="6.5" stroke-dasharray="16.9 2.7" stroke-dashoffset="6.4"/>
<path d="M959.9 324.7V519.9" stroke-width="14.7" stroke-dasharray="15.6 4.0" stroke-dashoffset="3.9"/>
<path d="M958.0 361.9V519.9" stroke-width="10.0" stroke-dasharray="16.7 2.9" stroke-dashoffset="16.5"/>
<path d="M972.9 377.9V550.9" stroke-width="12.9" stroke-dasharray="14.3 5.3" stroke-dashoffset="2.9"/>
<path d="M971.8 427.5V550.9" stroke-width="8.0" stroke-dasharray="14.2 5.4" stroke-dashoffset="10.0"/>
<path d="M982.5 382.6V530.5" stroke-width="7.9" stroke-dasharray="13.6 6.0" stroke-dashoffset="5.0"/>
<path d="M983.7 434.6V530.5" stroke-width="5.6" stroke-dasharray="16.3 3.3" stroke-dashoffset="7.9"/>
<path d="M989.4 403.0V530.5" stroke-width="7.7" stroke-dasharray="16.2 3.4" stroke-dashoffset="4.1"/>
<path d="M989.3 462.3V530.5" stroke-width="5.7" stroke-dasharray="17.6 2.0" stroke-dashoffset="14.6"/>
<path d="M995.5 415.0V562.8" stroke-width="6.0" stroke-dasharray="17.0 2.6" stroke-dashoffset="7.3"/>
<path d="M999.0 454.0V575.4" stroke-width="2.7" stroke-dasharray="17.5 2.1" stroke-dashoffset="8.4"/>
<path d="M1122.9 1321.9V1441.4" stroke-width="12.9" stroke-dasharray="17.0 2.6" stroke-dashoffset="6.9"/>
<path d="M1121.7 1358.2V1441.4" stroke-width="9.2" stroke-dasharray="15.0 4.6" stroke-dashoffset="9.2"/>
<path d="M1132.0 1342.3V1465.8" stroke-width="6.9" stroke-dasharray="13.5 6.1" stroke-dashoffset="2.0"/>
<path d="M1131.8 1387.9V1465.8" stroke-width="4.8" stroke-dasharray="17.8 1.8" stroke-dashoffset="13.1"/>
<path d="M1141.1 1365.5V1531.2" stroke-width="12.9" stroke-dasharray="15.0 4.6" stroke-dashoffset="4.6"/>
<path d="M1141.0 1408.3V1531.2" stroke-width="8.5" stroke-dasharray="18.0 1.6" stroke-dashoffset="12.6"/>
<path d="M1150.1 1393.4V1560.0" stroke-width="6.7" stroke-dasharray="16.7 2.9" stroke-dashoffset="6.6"/>
<path d="M1150.9 1452.6V1560.0" stroke-width="3.4" stroke-dasharray="16.8 2.8" stroke-dashoffset="5.0"/>
<path d="M1154.0 1434.2V1549.8" stroke-width="2.7" stroke-dasharray="15.3 4.3" stroke-dashoffset="0.4"/>
<path d="M1160.9 1428.6V1549.8" stroke-width="12.9" stroke-dasharray="15.2 4.4" stroke-dashoffset="0.7"/>
<path d="M1161.5 1458.6V1549.8" stroke-width="9.9" stroke-dasharray="15.8 3.8" stroke-dashoffset="19.0"/>
<path d="M1174.4 1403.9V1560.4" stroke-width="15.6" stroke-dasharray="16.1 3.5" stroke-dashoffset="8.0"/>
<path d="M1173.1 1449.5V1560.4" stroke-width="11.6" stroke-dasharray="16.2 3.4" stroke-dashoffset="14.9"/>
<path d="M1186.5 1369.6V1546.0" stroke-width="10.1" stroke-dasharray="13.7 5.9" stroke-dashoffset="5.3"/>
<path d="M1185.7 1396.0V1546.0" stroke-width="6.5" stroke-dasharray="15.7 3.9" stroke-dashoffset="12.0"/>
<path d="M1192.9 1328.4V1542.3" stroke-width="4.5" stroke-dasharray="13.8 5.8" stroke-dashoffset="5.4"/>
<path d="M1202.7 1288.2V1530.3" stroke-width="16.6" stroke-dasharray="15.9 3.7" stroke-dashoffset="4.7"/>
<path d="M1204.2 1322.8V1530.3" stroke-width="9.7" stroke-dasharray="16.0 3.6" stroke-dashoffset="5.6"/>
<path d="M1212.0 1337.7V1480.2" stroke-width="3.6" stroke-dasharray="16.7 2.9" stroke-dashoffset="2.6"/>
<path d="M1217.1 1329.9V1498.7" stroke-width="8.2" stroke-dasharray="14.6 5.0" stroke-dashoffset="0.3"/>
<path d="M1217.2 1356.2V1498.7" stroke-width="6.0" stroke-dasharray="17.5 2.1" stroke-dashoffset="14.7"/>
<path d="M1227.3 1320.4V1474.2" stroke-width="13.8" stroke-dasharray="13.7 5.9" stroke-dashoffset="5.7"/>
<path d="M1230.3 1378.2V1474.2" stroke-width="7.2" stroke-dasharray="15.4 4.2" stroke-dashoffset="9.4"/>
<path d="M1241.2 1288.2V1474.6" stroke-width="15.6" stroke-dasharray="17.9 1.7" stroke-dashoffset="2.4"/>
<path d="M1242.3 1329.1V1474.6" stroke-width="12.2" stroke-dasharray="15.6 4.0" stroke-dashoffset="19.2"/>
<path d="M1253.9 1305.2V1486.7" stroke-width="11.4" stroke-dasharray="17.2 2.4" stroke-dashoffset="5.5"/>
<path d="M1254.1 1385.8V1486.7" stroke-width="7.8" stroke-dasharray="14.4 5.2" stroke-dashoffset="1.0"/>
<path d="M1261.1 1384.1V1521.5" stroke-width="4.7" stroke-dasharray="15.9 3.7" stroke-dashoffset="1.0"/>
<path d="M1270.2 1316.0V1555.8" stroke-width="15.1" stroke-dasharray="16.5 3.1" stroke-dashoffset="3.9"/>
<path d="M1270.2 1346.5V1555.8" stroke-width="10.2" stroke-dasharray="17.0 2.6" stroke-dashoffset="10.4"/>
<path d="M1284.8 1353.5V1557.6" stroke-width="15.6" stroke-dasharray="18.0 1.6" stroke-dashoffset="9.5"/>
<path d="M1282.6 1402.8V1557.6" stroke-width="8.9" stroke-dasharray="17.5 2.1" stroke-dashoffset="15.4"/>
<path d="M1293.6 1397.1V1553.9" stroke-width="3.6" stroke-dasharray="16.3 3.3" stroke-dashoffset="3.0"/>
<path d="M1301.9 1383.2V1543.3" stroke-width="14.7" stroke-dasharray="16.6 3.0" stroke-dashoffset="4.8"/>
<path d="M1303.5 1426.8V1543.3" stroke-width="10.2" stroke-dasharray="14.4 5.2" stroke-dashoffset="4.9"/>
<path d="M1311.2 1393.4V1530.7" stroke-width="5.4" stroke-dasharray="17.9 1.7" stroke-dashoffset="9.1"/>
<path d="M1321.4 1302.8V1551.9" stroke-width="16.6" stroke-dasharray="13.7 5.9" stroke-dashoffset="0.3"/>
<path d="M1322.6 1397.4V1551.9" stroke-width="10.4" stroke-dasharray="14.0 5.6" stroke-dashoffset="10.6"/>
<path d="M1332.1 1374.8V1577.1" stroke-width="6.4" stroke-dasharray="13.8 5.8" stroke-dashoffset="0.5"/>
<path d="M1332.8 1421.9V1577.1" stroke-width="4.2" stroke-dasharray="15.2 4.4" stroke-dashoffset="9.4"/>
<path d="M1337.2 1417.5V1587.8" stroke-width="5.4" stroke-dasharray="14.4 5.2" stroke-dashoffset="2.2"/>
<path d="M1347.2 1404.5V1587.8" stroke-width="16.2" stroke-dasharray="17.3 2.3" stroke-dashoffset="0.7"/>
<path d="M1348.1 1429.3V1587.8" stroke-width="12.0" stroke-dasharray="17.0 2.6" stroke-dashoffset="4.2"/>
<path d="M1357.0 1428.6V1567.4" stroke-width="4.9" stroke-dasharray="15.4 4.2" stroke-dashoffset="1.9"/>
<path d="M1362.2 1423.0V1567.4" stroke-width="7.3" stroke-dasharray="15.2 4.4" stroke-dashoffset="4.7"/>
<path d="M1362.8 1482.6V1567.4" stroke-width="4.4" stroke-dasharray="16.9 2.7" stroke-dashoffset="18.0"/>
<path d="M1369.2 1384.1V1543.3" stroke-width="8.2" stroke-dasharray="15.4 4.2" stroke-dashoffset="2.7"/>
<path d="M1368.8 1408.0V1543.3" stroke-width="6.3" stroke-dasharray="13.9 5.7" stroke-dashoffset="11.1"/>
<path d="M1380.3 1324.3V1511.7" stroke-width="15.6" stroke-dasharray="15.7 3.9" stroke-dashoffset="5.3"/>
<path d="M1379.0 1356.3V1511.7" stroke-width="11.5" stroke-dasharray="14.5 5.1" stroke-dashoffset="13.0"/>
<path d="M1391.9 1350.7V1515.9" stroke-width="9.1" stroke-dasharray="13.9 5.7" stroke-dashoffset="1.8"/>
<path d="M1391.7 1399.7V1515.9" stroke-width="6.5" stroke-dasharray="14.1 5.5" stroke-dashoffset="7.0"/>
<path d="M1398.1 1279.3V1518.2" stroke-width="4.7" stroke-dasharray="16.8 2.8" stroke-dashoffset="3.2"/>
<path d="M1406.0 1279.0V1541.9" stroke-width="12.9" stroke-dasharray="16.7 2.9" stroke-dashoffset="4.9"/>
<path d="M1407.6 1335.8V1541.9" stroke-width="10.1" stroke-dasharray="15.5 4.1" stroke-dashoffset="15.7"/>
<path d="M1418.6 1273.5V1533.1" stroke-width="13.8" stroke-dasharray="14.9 4.7" stroke-dashoffset="2.2"/>
<path d="M1420.1 1309.5V1533.1" stroke-width="10.8" stroke-dasharray="14.6 5.0" stroke-dashoffset="7.1"/>
<path d="M1427.4 1202.0V1509.9" stroke-width="5.4" stroke-dasharray="15.1 4.5" stroke-dashoffset="2.6"/>
<path d="M1437.4 1146.9V1512.7" stroke-width="16.2" stroke-dasharray="15.2 4.4" stroke-dashoffset="1.4"/>
<path d="M1438.0 1189.5V1512.7" stroke-width="12.0" stroke-dasharray="17.3 2.3" stroke-dashoffset="11.0"/>
<path d="M1445.7 1211.3V1501.1" stroke-width="2.1" stroke-dasharray="14.3 5.3" stroke-dashoffset="4.8"/>
<path d="M1453.3 1239.1V1501.1" stroke-width="14.7" stroke-dasharray="14.8 4.8" stroke-dashoffset="0.2"/>
<path d="M1454.1 1279.8V1501.1" stroke-width="9.8" stroke-dasharray="17.8 1.8" stroke-dashoffset="12.8"/>
<path d="M1462.2 1298.5V1535.4" stroke-width="4.5" stroke-dasharray="17.1 2.5" stroke-dashoffset="0.6"/>
<path d="M1466.1 1347.7V1535.4" stroke-width="5.1" stroke-dasharray="17.0 2.6" stroke-dashoffset="0.8"/>
<path d="M1469.2 1211.3V1554.9" stroke-width="2.7" stroke-dasharray="16.8 2.8" stroke-dashoffset="7.9"/>
<path d="M1477.3 1112.1V1554.9" stroke-width="15.1" stroke-dasharray="16.4 3.2" stroke-dashoffset="1.2"/>
<path d="M1476.5 1224.4V1554.9" stroke-width="10.5" stroke-dasharray="14.5 5.1" stroke-dashoffset="15.0"/>
<path d="M1486.3 1213.2V1487.0" stroke-width="4.5" stroke-dasharray="15.8 3.8" stroke-dashoffset="6.0"/>
<path d="M1493.7 1226.2V1496.0" stroke-width="11.9" stroke-dasharray="15.0 4.6" stroke-dashoffset="6.8"/>
<path d="M1494.2 1273.1V1496.0" stroke-width="7.7" stroke-dasharray="16.7 2.9" stroke-dashoffset="13.9"/>
<path d="M1507.0 1172.0V1496.1" stroke-width="16.2" stroke-dasharray="17.6 2.0" stroke-dashoffset="3.9"/>
<path d="M1509.1 1225.0V1496.1" stroke-width="11.3" stroke-dasharray="17.1 2.5" stroke-dashoffset="16.3"/>
<path d="M1516.0 1220.6V1487.1" stroke-width="3.4" stroke-dasharray="17.5 2.1" stroke-dashoffset="9.1"/>
<path d="M1520.3 1263.3V1487.1" stroke-width="6.9" stroke-dasharray="15.9 3.7" stroke-dashoffset="5.6"/>
<path d="M1520.5 1315.4V1487.1" stroke-width="4.3" stroke-dasharray="14.2 5.4" stroke-dashoffset="14.5"/>
<path d="M1525.7 1272.2V1485.6" stroke-width="5.4" stroke-dasharray="18.0 1.6" stroke-dashoffset="3.7"/>
<path d="M1532.2 1292.9V1485.6" stroke-width="9.1" stroke-dasharray="14.4 5.2" stroke-dashoffset="2.7"/>
<path d="M1531.7 1324.6V1485.6" stroke-width="7.2" stroke-dasharray="14.9 4.7" stroke-dashoffset="2.3"/>
<path d="M1537.3 1331.9V1491.8" stroke-width="2.7" stroke-dasharray="16.4 3.2" stroke-dashoffset="6.5"/>
<path d="M1541.0 1391.3V1491.8" stroke-width="6.4" stroke-dasharray="13.8 5.8" stroke-dashoffset="2.7"/>
<path d="M1540.7 1434.6V1491.8" stroke-width="4.9" stroke-dasharray="14.0 5.6" stroke-dashoffset="3.6"/>
<path d="M1549.8 1434.0V1530.1" stroke-width="12.9" stroke-dasharray="14.5 5.1" stroke-dashoffset="1.5"/>
<path d="M1549.1 1482.6V1530.1" stroke-width="8.7" stroke-dasharray="14.3 5.3" stroke-dashoffset="5.5"/>
<path d="M1557.2 1341.2V1530.1" stroke-width="3.6" stroke-dasharray="14.3 5.3" stroke-dashoffset="4.8"/>
<path d="M1566.0 1263.8V1489.0" stroke-width="15.6" stroke-dasharray="16.0 3.6" stroke-dashoffset="6.5"/>
<path d="M1569.0 1348.4V1489.0" stroke-width="9.0" stroke-dasharray="17.6 2.0" stroke-dashoffset="6.7"/>
<path d="M1576.5 1318.9V1521.0" stroke-width="6.9" stroke-dasharray="16.0 3.6" stroke-dashoffset="7.6"/>
<path d="M1575.6 1358.2V1521.0" stroke-width="3.9" stroke-dasharray="17.8 1.8" stroke-dashoffset="15.7"/>
<path d="M1582.4 1340.3V1521.0" stroke-width="6.4" stroke-dasharray="15.2 4.4" stroke-dashoffset="3.8"/>
<path d="M1584.1 1380.9V1521.0" stroke-width="3.7" stroke-dasharray="16.5 3.1" stroke-dashoffset="4.7"/>
<path d="M1587.7 1369.0V1516.4" stroke-width="5.8" stroke-dasharray="13.5 6.1" stroke-dashoffset="2.6"/>
<path d="M1593.9 1383.9V1522.4" stroke-width="8.2" stroke-dasharray="17.1 2.5" stroke-dashoffset="6.5"/>
<path d="M1593.0 1428.1V1522.4" stroke-width="4.5" stroke-dasharray="14.9 4.7" stroke-dashoffset="5.1"/>
<path d="M1600.8 1391.3V1517.6" stroke-width="7.3" stroke-dasharray="17.4 2.2" stroke-dashoffset="4.9"/>
<path d="M1600.9 1436.8V1517.6" stroke-width="5.8" stroke-dasharray="15.9 3.7" stroke-dashoffset="3.0"/>
<path d="M1606.9 1357.9V1535.6" stroke-width="6.4" stroke-dasharray="17.0 2.6" stroke-dashoffset="0.0"/>
<path d="M1607.8 1410.7V1535.6" stroke-width="4.8" stroke-dasharray="13.9 5.7" stroke-dashoffset="5.3"/>
<path d="M1614.1 1344.9V1535.6" stroke-width="9.7" stroke-dasharray="16.7 2.9" stroke-dashoffset="0.8"/>
<path d="M1616.1 1384.1V1535.6" stroke-width="6.2" stroke-dasharray="16.1 3.5" stroke-dashoffset="16.8"/>
<path d="M1620.6 1270.7V1533.2" stroke-width="4.9" stroke-dasharray="14.9 4.7" stroke-dashoffset="5.4"/>
<path d="M1629.9 1262.9V1563.5" stroke-width="15.3" stroke-dasharray="17.6 2.0" stroke-dashoffset="0.9"/>
<path d="M1630.6 1315.9V1563.5" stroke-width="8.6" stroke-dasharray="15.9 3.7" stroke-dashoffset="3.1"/>
<path d="M1642.9 1305.9V1563.5" stroke-width="12.3" stroke-dasharray="17.2 2.4" stroke-dashoffset="2.9"/>
<path d="M1642.1 1338.4V1563.5" stroke-width="6.4" stroke-dasharray="15.6 4.0" stroke-dashoffset="14.0"/>
<path d="M1650.0 1374.6V1538.4" stroke-width="3.6" stroke-dasharray="15.1 4.5" stroke-dashoffset="4.9"/>
<path d="M1653.2 1389.4V1530.1" stroke-width="4.5" stroke-dasharray="15.3 4.3" stroke-dashoffset="3.4"/>
<path d="M1661.6 1374.6V1525.6" stroke-width="13.8" stroke-dasharray="17.2 2.4" stroke-dashoffset="6.0"/>
<path d="M1663.1 1395.1V1525.6" stroke-width="8.5" stroke-dasharray="14.6 5.0" stroke-dashoffset="11.1"/>
<path d="M1675.7 1350.8V1582.2" stroke-width="16.0" stroke-dasharray="15.6 4.0" stroke-dashoffset="0.1"/>
<path d="M1674.9 1410.5V1582.2" stroke-width="11.8" stroke-dasharray="16.3 3.3" stroke-dashoffset="5.7"/>
<path d="M1685.4 1374.6V1582.2" stroke-width="5.1" stroke-dasharray="15.2 4.4" stroke-dashoffset="3.9"/>
<path d="M1688.7 1337.5V1552.5" stroke-width="3.0" stroke-dasharray="15.0 4.6" stroke-dashoffset="2.8"/>
<path d="M1697.0 1326.7V1545.6" stroke-width="15.3" stroke-dasharray="14.7 4.9" stroke-dashoffset="1.3"/>
<path d="M1700.2 1376.0V1545.6" stroke-width="9.1" stroke-dasharray="16.0 3.6" stroke-dashoffset="14.2"/>
<path d="M1706.1 1350.5V1550.5" stroke-width="4.5" stroke-dasharray="15.0 4.6" stroke-dashoffset="5.8"/>
<path d="M1714.5 1406.1V1580.4" stroke-width="13.8" stroke-dasharray="14.1 5.5" stroke-dashoffset="0.6"/>
<path d="M1713.6 1453.2V1580.4" stroke-width="9.8" stroke-dasharray="15.3 4.3" stroke-dashoffset="16.4"/>
<path d="M1728.2 1363.8V1552.1" stroke-width="15.3" stroke-dasharray="16.2 3.4" stroke-dashoffset="0.7"/>
<path d="M1726.0 1392.9V1552.1" stroke-width="8.4" stroke-dasharray="15.3 4.3" stroke-dashoffset="1.4"/>
<path d="M1737.5 1404.3V1548.8" stroke-width="4.9" stroke-dasharray="17.6 2.0" stroke-dashoffset="4.1"/>
<path d="M1741.4 1385.7V1531.7" stroke-width="4.5" stroke-dasharray="16.4 3.2" stroke-dashoffset="6.5"/>
<path d="M1745.1 1325.4V1527.0" stroke-width="4.5" stroke-dasharray="15.2 4.4" stroke-dashoffset="2.4"/>
<path d="M1754.1 1305.9V1471.7" stroke-width="15.1" stroke-dasharray="13.6 6.0" stroke-dashoffset="2.2"/>
<path d="M1755.4 1393.4V1471.7" stroke-width="12.0" stroke-dasharray="16.5 3.1" stroke-dashoffset="11.9"/>
<path d="M1764.7 1382.9V1517.3" stroke-width="7.9" stroke-dasharray="13.6 6.0" stroke-dashoffset="1.8"/>
<path d="M1764.2 1416.6V1517.3" stroke-width="5.5" stroke-dasharray="15.2 4.4" stroke-dashoffset="10.0"/>
<path d="M1773.9 1423.5V1591.3" stroke-width="11.2" stroke-dasharray="12.7 6.9" stroke-dashoffset="7.5"/>
<path d="M1783.1 1420.0V1591.3" stroke-width="11.2" stroke-dasharray="12.7 6.9" stroke-dashoffset="7.5"/>
<path d="M1781.2 1446.4V1591.3" stroke-width="15.5" stroke-dasharray="16.0 3.6" stroke-dashoffset="6.9"/>
<path d="M1790.8 1378.3V1549.8" stroke-width="5.1" stroke-dasharray="15.8 3.8" stroke-dashoffset="1.1"/>
<path d="M1796.5 1323.9V1549.8" stroke-width="7.9" stroke-dasharray="17.9 1.7" stroke-dashoffset="5.1"/>
<path d="M1796.3 1372.5V1549.8" stroke-width="5.9" stroke-dasharray="17.8 1.8" stroke-dashoffset="12.3"/>
<path d="M1804.2 1323.9V1538.2" stroke-width="9.1" stroke-dasharray="14.4 5.2" stroke-dashoffset="0.5"/>
<path d="M1805.2 1411.6V1538.2" stroke-width="6.2" stroke-dasharray="15.0 4.6" stroke-dashoffset="18.2"/>
<path d="M1816.2 1408.0V1569.2" stroke-width="16.6" stroke-dasharray="15.1 4.5" stroke-dashoffset="3.3"/>
<path d="M1815.4 1432.9V1569.2" stroke-width="13.1" stroke-dasharray="17.6 2.0" stroke-dashoffset="10.7"/>
<path d="M1829.2 1393.1V1560.9" stroke-width="11.0" stroke-dasharray="16.0 3.6" stroke-dashoffset="4.5"/>
<path d="M1830.9 1423.7V1560.9" stroke-width="8.5" stroke-dasharray="17.2 2.4" stroke-dashoffset="11.8"/>
<path d="M1841.7 1336.0V1566.0" stroke-width="15.6" stroke-dasharray="14.1 5.5" stroke-dashoffset="5.0"/>
<path d="M1841.2 1367.5V1566.0" stroke-width="12.0" stroke-dasharray="16.1 3.5" stroke-dashoffset="16.3"/>
<path d="M1852.4 1380.1V1585.9" stroke-width="7.3" stroke-dasharray="14.3 5.3" stroke-dashoffset="3.5"/>
<path d="M1851.7 1403.2V1585.9" stroke-width="3.7" stroke-dasharray="17.9 1.7" stroke-dashoffset="18.4"/>
<path d="M1861.2 1420.0V1636.5" stroke-width="11.9" stroke-dasharray="16.5 3.1" stroke-dashoffset="2.6"/>
<path d="M1861.2 1466.9V1636.5" stroke-width="8.6" stroke-dasharray="16.2 3.4" stroke-dashoffset="15.8"/>
<path d="M1874.2 1339.5V1636.5" stroke-width="14.7" stroke-dasharray="12.4 7.2" stroke-dashoffset="1.1"/>
<path d="M1886.9 1336.0V1636.5" stroke-width="14.7" stroke-dasharray="12.4 7.2" stroke-dashoffset="1.1"/>
<path d="M1881.7 1422.2V1636.5" stroke-width="17.4" stroke-dasharray="14.3 5.3" stroke-dashoffset="10.2"/>
<path d="M1898.6 1359.7V1547.4" stroke-width="9.5" stroke-dasharray="14.7 4.9" stroke-dashoffset="3.8"/>
<path d="M1897.7 1393.0V1547.4" stroke-width="6.6" stroke-dasharray="16.5 3.1" stroke-dashoffset="2.8"/>
<path d="M1909.5 1331.9V1547.4" stroke-width="13.8" stroke-dasharray="17.8 1.8" stroke-dashoffset="5.9"/>
<path d="M1910.5 1370.7V1547.4" stroke-width="8.6" stroke-dasharray="16.6 3.0" stroke-dashoffset="14.9"/>
<path d="M1923.6 1262.0V1532.3" stroke-width="16.0" stroke-dasharray="16.9 2.7" stroke-dashoffset="4.3"/>
<path d="M1925.4 1321.8V1532.3" stroke-width="12.0" stroke-dasharray="15.3 4.3" stroke-dashoffset="8.5"/>
<path d="M1935.2 1294.8V1504.3" stroke-width="8.8" stroke-dasharray="16.0 3.6" stroke-dashoffset="7.3"/>
<path d="M1935.4 1335.8V1504.3" stroke-width="5.8" stroke-dasharray="17.6 2.0" stroke-dashoffset="6.3"/>
<path d="M1943.3 1319.9V1517.3" stroke-width="9.1" stroke-dasharray="13.7 5.9" stroke-dashoffset="4.2"/>
<path d="M1944.0 1375.9V1517.3" stroke-width="6.6" stroke-dasharray="16.9 2.7" stroke-dashoffset="6.0"/>
<path d="M1950.7 1301.3V1534.9" stroke-width="7.3" stroke-dasharray="16.2 3.4" stroke-dashoffset="0.6"/>
<path d="M1951.1 1326.3V1534.9" stroke-width="4.6" stroke-dasharray="15.3 4.3" stroke-dashoffset="1.0"/>
<path d="M1961.1 1294.8V1579.0" stroke-width="15.1" stroke-dasharray="16.6 3.0" stroke-dashoffset="4.5"/>
<path d="M1960.9 1324.4V1579.0" stroke-width="8.9" stroke-dasharray="14.6 5.0" stroke-dashoffset="1.3"/>
<path d="M1970.2 1299.4V1579.9" stroke-width="4.7" stroke-dasharray="17.6 2.0" stroke-dashoffset="9.3"/>
<path d="M1976.5 1341.2V1576.4" stroke-width="9.5" stroke-dasharray="17.4 2.2" stroke-dashoffset="4.0"/>
<path d="M1977.9 1393.4V1576.4" stroke-width="5.4" stroke-dasharray="16.1 3.5" stroke-dashoffset="17.7"/>
<path d="M1982.3 1346.8V1560.6" stroke-width="3.6" stroke-dasharray="13.9 5.7" stroke-dashoffset="4.7"/>
<path d="M1988.8 1334.7V1572.9" stroke-width="11.0" stroke-dasharray="15.9 3.7" stroke-dashoffset="7.5"/>
<path d="M1988.2 1354.7V1572.9" stroke-width="6.3" stroke-dasharray="15.0 4.6" stroke-dashoffset="1.2"/>
<path d="M2000.8 1305.0V1571.1" stroke-width="14.7" stroke-dasharray="17.5 2.1" stroke-dashoffset="7.8"/>
<path d="M2001.7 1340.9V1571.1" stroke-width="8.9" stroke-dasharray="13.7 5.9" stroke-dashoffset="0.6"/>
<path d="M2012.0 1310.0V1583.2" stroke-width="9.1" stroke-dasharray="17.5 2.1" stroke-dashoffset="2.9"/>
<path d="M2013.3 1350.0V1583.2" stroke-width="7.1" stroke-dasharray="15.6 4.0" stroke-dashoffset="4.0"/>
<path d="M2023.1 1347.7V1579.9" stroke-width="14.7" stroke-dasharray="14.8 4.8" stroke-dashoffset="6.3"/>
<path d="M2025.7 1403.6V1579.9" stroke-width="8.2" stroke-dasharray="15.1 4.5" stroke-dashoffset="9.3"/>
<path d="M2035.2 1350.8V1592.9" stroke-width="11.0" stroke-dasharray="14.3 5.3" stroke-dashoffset="5.5"/>
<path d="M2036.2 1410.7V1592.9" stroke-width="6.2" stroke-dasharray="14.4 5.2" stroke-dashoffset="17.3"/>
<path d="M2042.1 1404.3V1603.6" stroke-width="4.5" stroke-dasharray="13.7 5.9" stroke-dashoffset="0.6"/>
<path d="M2046.9 1405.2V1612.2" stroke-width="6.7" stroke-dasharray="14.9 4.7" stroke-dashoffset="6.2"/>
<path d="M2046.6 1460.0V1612.2" stroke-width="4.8" stroke-dasharray="16.6 3.0" stroke-dashoffset="18.4"/>
<path d="M2054.2 1405.7V1612.2" stroke-width="9.1" stroke-dasharray="15.5 4.1" stroke-dashoffset="0.6"/>
<path d="M2055.4 1434.6V1612.2" stroke-width="5.4" stroke-dasharray="14.4 5.2" stroke-dashoffset="3.5"/>
<path d="M2062.5 1454.0V1611.7" stroke-width="9.1" stroke-dasharray="14.6 5.0" stroke-dashoffset="4.4"/>
<path d="M2063.5 1505.6V1611.7" stroke-width="5.6" stroke-dasharray="17.5 2.1" stroke-dashoffset="11.6"/>
<path d="M2070.4 1370.5V1594.3" stroke-width="8.2" stroke-dasharray="14.5 5.1" stroke-dashoffset="2.0"/>
<path d="M2070.3 1467.9V1594.3" stroke-width="5.8" stroke-dasharray="16.4 3.2" stroke-dashoffset="1.8"/>
<path d="M2081.1 1318.1V1566.0" stroke-width="14.7" stroke-dasharray="17.9 1.7" stroke-dashoffset="4.4"/>
<path d="M2079.2 1402.1V1566.0" stroke-width="9.7" stroke-dasharray="16.2 3.4" stroke-dashoffset="5.6"/>
<path d="M2095.5 1394.2V1588.3" stroke-width="15.6" stroke-dasharray="14.6 5.0" stroke-dashoffset="5.3"/>
<path d="M2097.5 1417.7V1588.3" stroke-width="9.2" stroke-dasharray="14.6 5.0" stroke-dashoffset="5.5"/>
<path d="M2105.4 1454.0V1576.2" stroke-width="5.8" stroke-dasharray="16.0 3.6" stroke-dashoffset="1.5"/>
<path d="M2110.5 1325.0V1572.0" stroke-width="6.0" stroke-dasharray="17.9 1.7" stroke-dashoffset="0.3"/>
<path d="M2118.9 1066.5V1560.0" stroke-width="11.7" stroke-dasharray="13.4 6.2" stroke-dashoffset="3.4"/>
<path d="M2128.6 1063.0V1560.0" stroke-width="11.7" stroke-dasharray="13.4 6.2" stroke-dashoffset="3.4"/>
<path d="M2124.7 1332.5V1560.0" stroke-width="12.3" stroke-dasharray="16.4 3.2" stroke-dashoffset="7.0"/>
<path d="M2136.7 1298.1V1507.6" stroke-width="5.4" stroke-dasharray="16.5 3.1" stroke-dashoffset="6.6"/>
<path d="M2146.7 1236.0V1528.9" stroke-width="16.0" stroke-dasharray="15.8 3.8" stroke-dashoffset="6.6"/>
<path d="M2149.5 1341.8V1528.9" stroke-width="10.5" stroke-dasharray="14.3 5.3" stroke-dashoffset="15.3"/>
<path d="M2160.6 1331.5V1521.9" stroke-width="13.4" stroke-dasharray="14.2 5.4" stroke-dashoffset="3.8"/>
<path d="M2162.3 1360.9V1521.9" stroke-width="8.5" stroke-dasharray="17.0 2.6" stroke-dashoffset="15.5"/>
<path d="M2169.9 1336.1V1529.5" stroke-width="6.7" stroke-dasharray="14.6 5.0" stroke-dashoffset="3.2"/>
<path d="M2170.2 1365.0V1529.5" stroke-width="4.5" stroke-dasharray="13.7 5.9" stroke-dashoffset="11.7"/>
<path d="M2179.1 1315.7V1546.0" stroke-width="13.4" stroke-dasharray="16.7 2.9" stroke-dashoffset="5.0"/>
<path d="M2177.4 1370.6V1546.0" stroke-width="7.4" stroke-dasharray="13.6 6.0" stroke-dashoffset="9.7"/>
<path d="M2186.8 1281.4V1507.1" stroke-width="3.6" stroke-dasharray="15.5 4.1" stroke-dashoffset="3.3"/>
<path d="M2195.2 1273.1V1507.1" stroke-width="14.7" stroke-dasharray="17.1 2.5" stroke-dashoffset="0.7"/>
<path d="M2195.8 1329.4V1507.1" stroke-width="9.9" stroke-dasharray="17.1 2.5" stroke-dashoffset="4.7"/>
<path d="M2203.5 1309.2V1506.2" stroke-width="3.6" stroke-dasharray="14.2 5.4" stroke-dashoffset="1.9"/>
<path d="M2206.8 1348.2V1506.2" stroke-width="4.5" stroke-dasharray="14.9 4.7" stroke-dashoffset="4.3"/>
<path d="M2212.2 1344.5V1506.2" stroke-width="7.9" stroke-dasharray="14.7 4.9" stroke-dashoffset="3.9"/>
<path d="M2211.9 1368.0V1506.2" stroke-width="5.9" stroke-dasharray="14.6 5.0" stroke-dashoffset="3.1"/>
<path d="M2223.0 1279.0V1493.2" stroke-width="15.5" stroke-dasharray="16.6 3.0" stroke-dashoffset="7.2"/>
<path d="M2222.7 1367.4V1493.2" stroke-width="8.0" stroke-dasharray="15.1 4.5" stroke-dashoffset="4.2"/>
<path d="M2231.5 1355.6V1493.2" stroke-width="3.2" stroke-dasharray="17.9 1.7" stroke-dashoffset="0.4"/>
<path d="M2235.1 1424.3V1503.8" stroke-width="5.4" stroke-dasharray="16.9 2.7" stroke-dashoffset="8.8"/>
<path d="M2244.3 1405.3V1548.4" stroke-width="14.7" stroke-dasharray="15.5 4.1" stroke-dashoffset="5.6"/>
<path d="M2247.2 1426.9V1548.4" stroke-width="8.4" stroke-dasharray="14.1 5.5" stroke-dashoffset="7.7"/>
<path d="M2252.7 1416.8V1608.2" stroke-width="3.6" stroke-dasharray="14.8 4.8" stroke-dashoffset="2.9"/>
<path d="M2256.9 1367.7V1608.2" stroke-width="6.4" stroke-dasharray="13.7 5.9" stroke-dashoffset="5.6"/>
<path d="M2256.8 1418.2V1608.2" stroke-width="4.6" stroke-dasharray="14.6 5.0" stroke-dashoffset="10.8"/>
<path d="M2267.3 1341.2V1608.2" stroke-width="16.0" stroke-dasharray="14.6 5.0" stroke-dashoffset="3.0"/>
<path d="M2266.6 1398.4V1608.2" stroke-width="9.8" stroke-dasharray="17.9 1.7" stroke-dashoffset="12.0"/>
<path d="M2278.8 1374.2V1583.4" stroke-width="8.8" stroke-dasharray="13.7 5.9" stroke-dashoffset="2.3"/>
<path d="M2278.6 1420.2V1583.4" stroke-width="4.5" stroke-dasharray="16.6 3.0" stroke-dashoffset="16.9"/>
<path d="M2286.5 1420.6V1601.5" stroke-width="8.2" stroke-dasharray="16.2 3.4" stroke-dashoffset="7.2"/>
<path d="M2288.0 1459.1V1601.5" stroke-width="5.1" stroke-dasharray="15.2 4.4" stroke-dashoffset="15.3"/>
<path d="M2297.2 1355.3V1601.5" stroke-width="14.7" stroke-dasharray="14.5 5.1" stroke-dashoffset="2.2"/>
<path d="M2296.0 1382.6V1601.5" stroke-width="9.8" stroke-dasharray="14.4 5.2" stroke-dashoffset="4.2"/>
<path d="M2308.8 1372.3V1537.7" stroke-width="10.1" stroke-dasharray="15.6 4.0" stroke-dashoffset="2.3"/>
<path d="M2309.6 1410.2V1537.7" stroke-width="8.0" stroke-dasharray="17.4 2.2" stroke-dashoffset="4.0"/>
<path d="M2316.2 1356.5V1551.2" stroke-width="6.4" stroke-dasharray="15.2 4.4" stroke-dashoffset="0.5"/>
<path d="M2316.1 1404.2V1551.2" stroke-width="3.9" stroke-dasharray="13.6 6.0" stroke-dashoffset="3.6"/>
<path d="M2326.2 1342.1V1551.6" stroke-width="15.1" stroke-dasharray="14.7 4.9" stroke-dashoffset="2.6"/>
<path d="M2325.6 1426.1V1551.6" stroke-width="10.8" stroke-dasharray="15.1 4.5" stroke-dashoffset="3.0"/>
<path d="M2335.9 1412.2V1551.6" stroke-width="6.0" stroke-dasharray="17.7 1.9" stroke-dashoffset="3.5"/>
<path d="M2341.7 1424.3V1545.6" stroke-width="7.3" stroke-dasharray="16.8 2.8" stroke-dashoffset="7.9"/>
<path d="M2341.8 1445.1V1545.6" stroke-width="4.4" stroke-dasharray="13.9 5.7" stroke-dashoffset="17.3"/>
<path d="M2349.2 1402.0V1545.6" stroke-width="9.1" stroke-dasharray="15.0 4.6" stroke-dashoffset="5.4"/>
<path d="M2349.1 1442.8V1545.6" stroke-width="4.7" stroke-dasharray="14.6 5.0" stroke-dashoffset="0.8"/>
<path d="M2358.0 1383.5V1553.5" stroke-width="10.1" stroke-dasharray="14.2 5.4" stroke-dashoffset="3.7"/>
<path d="M2358.1 1404.7V1553.5" stroke-width="6.0" stroke-dasharray="15.9 3.7" stroke-dashoffset="2.7"/>
<path d="M2369.8 1339.5V1559.5" stroke-width="15.1" stroke-dasharray="16.7 2.9" stroke-dashoffset="2.3"/>
<path d="M2368.6 1388.5V1559.5" stroke-width="10.6" stroke-dasharray="14.4 5.2" stroke-dashoffset="5.5"/>
<path d="M2383.4 1348.2V1542.3" stroke-width="13.8" stroke-dasharray="16.7 2.9" stroke-dashoffset="3.5"/>
<path d="M2382.9 1383.7V1542.3" stroke-width="10.5" stroke-dasharray="14.8 4.8" stroke-dashoffset="6.8"/>
</g>
<path d="M379.6 1559.5V1684.3" stroke-width="14.7" stroke-dasharray="11.9 7.7" stroke-dashoffset="4.7"/>
<path d="M413.0 1564.6V1654.6" stroke-width="5.4" stroke-dasharray="11.2 8.4" stroke-dashoffset="19.2"/>
<path d="M463.1 1559.5V1614.7" stroke-width="18.4" stroke-dasharray="11.1 8.5" stroke-dashoffset="14.7"/>
<path d="M1231.9 1457.5V1586.9" stroke-width="15.3" stroke-dasharray="13.5 6.1" stroke-dashoffset="1.7"/>
<path d="M1265.5 1486.7V1639.7" stroke-width="15.6" stroke-dasharray="13.3 6.3" stroke-dashoffset="17.0"/>
<path d="M1292.9 1533.2V1612.8" stroke-width="15.6" stroke-dasharray="14.2 5.4" stroke-dashoffset="13.0"/>
<path d="M1392.0 1503.8V1558.1" stroke-width="10.4" stroke-dasharray="14.9 4.7" stroke-dashoffset="19.4"/>
<path d="M1541.7 1491.3V1537.7" stroke-width="11.9" stroke-dasharray="12.2 7.4" stroke-dashoffset="5.0"/>
<path d="M1947.0 1510.8V1606.0" stroke-width="15.1" stroke-dasharray="13.7 5.9" stroke-dashoffset="16.5"/>
<path d="M2231.2 1483.7V1554.4" stroke-width="11.9" stroke-dasharray="14.7 4.9" stroke-dashoffset="2.8"/>
<path d="M886.5 1640.0L886.5 1200.0L887.0 900.0L887.5 640.0" stroke-width="13.3" stroke-dasharray="10.4 9.2"/>
<path d="M996.0 500.0L1001.0 560.0L1003.0 600.0L1020.0 750.0L1038.0 900.0L1052.0 985.0L1064.0 1060.0L1078.0 1135.0L1087.0 1180.0L1096.0 1230.0L1104.0 1262.0L1110.0 1291.0L1116.0 1340.0" stroke-width="13.3" stroke-dasharray="10.4 9.2"/>
</g>
<path d="M322.2 1411.3L322.0 1418.5L319.7 1417.3L316.3 1417.3L314.7 1418.0L312.2 1420.4L311.3 1423.8L311.3 1430.8L308.5 1430.1L305.2 1431.0L303.8 1432.0L302.1 1435.0L301.8 1468.2L297.9 1468.4L296.3 1469.0L293.9 1471.5L293.0 1474.8L293.0 1521.3L291.0 1521.0L289.3 1521.2L287.7 1521.9L285.2 1524.3L284.3 1527.7L284.3 1538.0L282.4 1537.7L279.9 1537.9L277.2 1539.5L277.2 1523.9L276.9 1522.2L275.2 1519.2L273.8 1518.2L270.5 1517.3L265.3 1517.5L262.7 1518.9L261.2 1516.5L259.8 1515.4L258.2 1514.7L254.6 1514.5L251.3 1515.4L248.9 1517.8L248.2 1519.4L248.0 1534.0L245.9 1534.2L244.3 1534.9L241.9 1537.3L241.2 1538.9L241.2 1564.3L242.9 1567.3L246.0 1569.0L246.2 1579.2L247.9 1582.1L249.8 1583.4L249.8 1588.6L250.7 1591.9L253.2 1594.3L254.8 1595.0L258.2 1595.0L260.3 1593.9L260.6 1605.1L262.3 1608.1L263.8 1609.2L264.1 1616.3L265.8 1619.2L267.2 1620.3L268.8 1621.0L271.8 1621.0L272.1 1641.3L273.8 1644.3L276.8 1646.0L278.5 1646.2L281.8 1645.3L283.2 1644.3L284.9 1641.3L285.2 1598.3L288.6 1598.9L291.0 1598.9L294.3 1598.0L295.7 1597.0L297.4 1594.0L297.7 1592.3L297.7 1581.9L299.6 1582.2L306.1 1582.0L309.1 1580.3L310.8 1577.3L311.0 1565.0L313.2 1563.6L314.3 1562.2L315.2 1558.9L315.2 1494.3L318.0 1495.0L321.3 1494.1L322.7 1493.1L324.4 1490.1L324.7 1462.1L325.3 1462.6L325.3 1484.7L326.2 1488.0L327.8 1489.8L327.8 1521.8L328.1 1523.5L329.8 1526.5L332.8 1528.2L335.0 1528.4L335.0 1558.9L335.9 1562.2L336.9 1563.6L339.0 1564.9L339.2 1579.2L340.9 1582.1L343.9 1583.9L347.4 1584.1L349.5 1583.7L353.3 1584.1L353.3 1594.1L354.2 1597.5L356.7 1599.9L358.3 1600.6L360.0 1600.8L362.0 1600.4L362.0 1633.1L362.9 1636.4L365.3 1638.8L366.9 1639.5L373.0 1639.7L373.2 1647.8L374.9 1650.8L376.3 1651.8L379.6 1652.7L383.2 1652.5L384.8 1651.8L387.3 1649.4L388.2 1646.1L388.2 1584.0L390.7 1583.9L392.3 1583.2L394.8 1580.8L395.7 1577.4L395.7 1567.6L396.0 1567.3L397.3 1568.3L399.3 1569.1L399.6 1581.0L400.2 1582.6L402.3 1584.8L402.6 1603.3L404.3 1606.3L406.8 1607.8L407.1 1634.8L408.8 1637.8L410.2 1638.8L411.8 1639.5L415.0 1639.5L415.2 1663.6L416.9 1666.5L419.9 1668.3L422.4 1668.5L425.7 1667.6L427.1 1666.5L428.8 1663.6L429.0 1646.2L430.8 1646.9L434.2 1646.9L437.2 1645.2L438.9 1642.2L439.2 1611.1L440.7 1610.0L442.4 1607.0L442.7 1588.7L445.8 1587.8L447.2 1586.8L448.3 1585.4L449.0 1583.5L451.1 1582.1L451.8 1581.1L451.8 1602.5L452.7 1605.8L455.2 1608.2L456.8 1608.9L467.1 1608.9L468.7 1608.2L471.1 1605.8L472.0 1602.5L472.0 1597.1L474.8 1598.7L478.2 1598.7L479.8 1598.0L482.3 1595.6L483.2 1592.3L483.2 1580.2L484.8 1577.3L485.0 1575.7L485.2 1600.5L486.9 1603.5L488.3 1604.5L491.6 1605.4L494.0 1605.2L494.9 1608.6L497.0 1610.8L497.0 1625.7L497.9 1629.0L500.3 1631.4L503.6 1632.3L506.7 1632.1L508.3 1631.4L510.8 1629.0L511.7 1625.7L511.7 1538.3L513.6 1538.6L534.4 1538.6L536.1 1538.4L538.0 1537.5L538.5 1537.8L539.2 1539.9L540.3 1541.3L541.7 1542.4L544.3 1543.2L544.6 1555.0L546.3 1558.0L549.3 1559.7L549.6 1575.4L551.3 1578.4L552.7 1579.5L555.0 1580.2L555.2 1592.1L556.9 1595.1L559.9 1596.8L565.4 1597.1L567.1 1596.8L569.1 1595.9L571.3 1598.0L574.6 1598.9L579.2 1598.7L582.2 1597.0L583.9 1594.0L584.2 1592.3L584.2 1565.4L586.4 1565.5L588.1 1565.3L590.0 1564.4L590.3 1564.6L590.6 1569.9L592.3 1572.9L595.3 1574.6L597.0 1574.8L599.0 1574.5L599.0 1616.4L599.2 1618.1L600.9 1621.1L603.9 1622.8L606.4 1623.0L609.7 1622.2L612.1 1619.7L612.8 1618.1L613.0 1596.5L615.2 1595.1L616.9 1592.1L617.2 1576.7L622.0 1576.4L622.2 1601.4L623.9 1604.4L626.9 1606.1L630.4 1606.3L633.7 1605.5L636.1 1603.0L636.8 1601.4L637.0 1579.4L637.9 1582.6L639.8 1584.7L640.1 1594.0L641.8 1597.0L643.2 1598.0L645.0 1598.7L645.0 1618.2L645.9 1621.6L648.3 1624.0L649.9 1624.7L652.4 1624.9L655.7 1624.0L658.1 1621.6L659.0 1618.2L659.0 1592.7L661.0 1591.5L663.9 1593.1L666.4 1593.4L669.7 1592.5L671.1 1591.4L672.8 1588.4L673.0 1586.7L673.0 1576.6L675.8 1575.8L677.2 1574.7L678.9 1571.7L679.2 1526.6L683.1 1526.3L686.0 1524.7L686.2 1541.1L686.9 1542.7L689.3 1545.2L690.9 1545.8L694.3 1546.0L694.3 1596.0L695.2 1599.3L696.3 1600.7L697.8 1601.8L697.8 1634.0L698.7 1637.3L701.2 1639.8L704.5 1640.7L712.4 1640.7L714.4 1640.3L716.5 1640.7L719.8 1639.8L721.2 1638.7L722.9 1635.7L723.2 1634.0L723.2 1617.7L724.3 1619.2L725.7 1620.3L729.0 1621.2L730.8 1620.9L730.8 1634.9L731.7 1638.3L734.2 1640.7L735.8 1641.4L741.1 1641.4L742.7 1640.7L745.1 1638.3L745.8 1636.7L746.0 1633.2L748.4 1632.9L750.5 1633.2L752.2 1633.0L753.8 1632.4L756.3 1629.9L757.2 1626.6L757.2 1616.9L757.8 1617.2L757.8 1634.9L758.7 1638.3L761.2 1640.7L762.8 1641.4L766.4 1641.6L769.7 1640.7L772.1 1638.3L772.8 1636.7L773.0 1623.0L776.7 1622.6L779.0 1623.0L780.7 1622.8L782.3 1622.2L784.8 1619.7L785.7 1616.4L785.7 1612.6L788.7 1610.9L790.4 1607.9L790.7 1597.2L792.0 1597.8L792.0 1611.2L792.2 1612.9L793.9 1615.9L796.9 1617.6L804.0 1617.8L807.3 1617.0L809.8 1614.5L810.7 1611.2L810.7 1564.7L813.0 1562.5L824.4 1562.7L826.1 1562.5L829.0 1560.8L831.0 1562.1L831.2 1570.8L832.9 1573.8L835.9 1575.5L840.4 1575.7L842.5 1575.3L844.3 1575.7L844.3 1604.3L845.2 1607.7L847.7 1610.1L851.0 1611.0L857.4 1611.0L860.7 1610.1L862.1 1609.0L863.8 1606.1L864.0 1604.3L864.0 1589.5L867.2 1589.4L869.8 1588.0L869.8 1607.1L870.7 1610.4L873.2 1612.9L876.5 1613.8L879.8 1612.9L881.4 1611.6L881.4 1640.0L882.3 1643.6L884.9 1646.2L888.5 1647.1L892.1 1646.2L893.5 1645.1L895.4 1641.9L895.6 1640.0L896.6 920.0L896.9 897.2L897.9 895.1L898.2 893.4L898.2 815.1L900.7 814.3L902.1 813.3L903.1 811.9L904.0 808.6L904.0 765.8L906.1 763.7L907.0 760.3L907.0 739.5L909.5 740.1L911.2 739.8L912.8 739.2L915.3 736.7L916.2 733.4L916.2 720.6L918.2 720.4L919.8 719.7L922.3 717.3L922.9 715.7L923.2 661.7L925.7 660.2L927.4 657.2L927.7 643.3L933.5 643.6L936.8 642.7L939.3 640.3L939.9 638.7L940.2 636.0L943.2 636.0L944.8 635.3L947.3 632.9L947.9 631.2L948.2 559.5L952.1 559.5L955.1 557.8L956.5 555.6L958.8 556.0L959.1 592.8L959.7 594.4L962.2 596.9L965.5 597.8L967.2 597.5L970.2 595.8L971.3 594.4L972.2 591.1L972.2 553.3L974.2 555.1L975.8 555.8L978.9 555.8L980.8 556.7L982.5 557.0L984.2 556.7L987.2 555.0L988.3 553.6L989.1 551.0L996.9 601.0L1014.9 750.9L1033.6 900.9L1054.9 1060.9L1075.9 1181.2L1083.9 1231.1L1091.0 1263.4L1095.9 1292.0L1101.6 1341.0L1100.0 1343.7L1099.5 1346.3L1099.7 1348.9L1107.1 1385.7L1110.7 1413.3L1117.3 1438.6L1122.0 1451.7L1127.5 1479.0L1133.8 1501.9L1140.0 1561.0L1140.6 1563.5L1141.9 1565.8L1143.7 1567.7L1145.9 1569.1L1148.4 1569.9L1151.0 1570.0L1153.0 1569.5L1153.2 1586.6L1154.9 1589.6L1157.9 1591.3L1160.4 1591.5L1163.7 1590.6L1166.1 1588.2L1166.8 1586.6L1167.0 1568.3L1167.9 1571.5L1168.9 1572.9L1171.0 1574.2L1171.0 1585.8L1171.9 1589.1L1174.3 1591.5L1175.9 1592.2L1178.0 1592.4L1178.2 1610.7L1178.9 1612.3L1181.3 1614.7L1182.9 1615.4L1186.5 1615.6L1189.8 1614.7L1191.2 1613.7L1192.3 1612.3L1193.2 1609.0L1193.2 1591.2L1194.2 1590.8L1197.0 1591.5L1200.3 1590.6L1202.8 1588.2L1203.4 1586.6L1203.7 1545.1L1204.8 1543.7L1205.7 1540.3L1205.7 1519.0L1210.1 1518.9L1213.0 1517.2L1215.0 1518.5L1215.2 1551.3L1216.9 1554.3L1219.9 1556.0L1223.4 1556.3L1226.7 1555.4L1229.1 1552.9L1230.0 1549.6L1230.0 1522.6L1238.1 1522.6L1241.1 1520.9L1242.8 1517.9L1243.0 1490.2L1243.8 1490.6L1243.8 1497.7L1244.7 1501.0L1247.2 1503.4L1248.8 1504.1L1250.8 1504.3L1250.8 1540.3L1251.7 1543.7L1252.8 1545.0L1254.3 1546.2L1254.3 1596.9L1255.2 1600.2L1257.7 1602.7L1259.3 1603.3L1266.4 1603.6L1269.7 1602.7L1272.1 1600.2L1272.8 1598.6L1273.0 1586.8L1276.1 1586.6L1279.0 1585.0L1281.0 1586.3L1281.2 1594.9L1282.9 1597.9L1284.3 1599.0L1287.6 1599.9L1290.7 1599.4L1293.0 1599.9L1296.3 1599.0L1298.8 1596.5L1299.4 1594.9L1299.7 1592.7L1301.7 1591.4L1303.4 1588.4L1303.7 1570.8L1305.5 1571.1L1308.4 1570.4L1310.9 1571.8L1312.6 1572.0L1315.1 1571.8L1317.0 1570.9L1317.5 1571.2L1318.2 1573.3L1320.7 1575.8L1324.0 1576.7L1326.3 1576.2L1326.6 1621.8L1327.2 1623.4L1329.7 1625.9L1331.3 1626.5L1334.0 1626.6L1334.0 1631.2L1334.9 1634.6L1337.3 1637.0L1340.6 1637.9L1343.1 1637.7L1344.7 1637.0L1347.1 1634.6L1347.8 1633.0L1348.0 1601.5L1349.9 1602.4L1352.3 1602.6L1354.3 1604.5L1355.9 1605.2L1358.4 1605.4L1360.4 1605.0L1362.5 1605.4L1365.8 1604.5L1368.3 1602.1L1368.9 1600.5L1369.2 1579.2L1371.3 1577.0L1371.9 1575.4L1372.2 1561.8L1374.2 1561.6L1375.8 1560.9L1378.3 1558.5L1378.9 1556.9L1379.2 1524.5L1381.0 1524.7L1381.0 1546.8L1381.9 1550.1L1384.3 1552.6L1385.9 1553.2L1389.4 1553.5L1392.0 1552.9L1393.6 1553.3L1395.3 1556.2L1396.7 1557.2L1398.3 1557.9L1401.0 1558.0L1401.0 1570.9L1401.9 1574.3L1402.9 1575.6L1405.9 1577.4L1411.0 1577.6L1414.3 1576.7L1416.8 1574.3L1417.7 1570.9L1417.7 1558.0L1420.3 1557.2L1422.8 1554.8L1423.7 1551.5L1423.7 1545.1L1424.1 1545.0L1424.9 1547.4L1425.9 1548.7L1428.9 1550.5L1432.4 1550.7L1434.5 1550.3L1439.0 1550.6L1439.2 1561.5L1439.9 1563.1L1442.3 1565.6L1445.6 1566.5L1450.7 1566.2L1452.3 1565.6L1454.4 1563.6L1455.7 1564.6L1457.8 1565.4L1458.1 1591.2L1458.7 1592.8L1461.2 1595.3L1464.5 1596.1L1468.4 1596.1L1471.7 1595.3L1474.1 1592.8L1474.8 1591.2L1475.0 1570.9L1478.2 1570.9L1479.8 1570.2L1482.3 1567.8L1482.9 1566.2L1483.2 1548.7L1485.8 1547.9L1487.2 1546.9L1488.4 1545.1L1490.8 1546.6L1491.1 1549.5L1492.8 1552.4L1495.8 1554.2L1504.1 1554.2L1507.1 1552.4L1508.1 1551.1L1509.0 1547.7L1509.0 1521.0L1512.0 1520.4L1514.6 1521.0L1519.1 1520.8L1520.7 1520.1L1523.0 1517.8L1524.0 1519.1L1524.2 1525.3L1524.9 1527.0L1527.3 1529.4L1528.9 1530.1L1531.4 1530.3L1533.1 1530.1L1535.0 1529.1L1536.9 1530.1L1540.1 1530.2L1541.9 1531.0L1547.0 1531.0L1547.0 1584.5L1547.9 1587.8L1550.3 1590.2L1553.6 1591.1L1558.1 1590.9L1561.1 1589.2L1562.8 1586.2L1563.0 1551.9L1566.3 1552.5L1566.6 1561.5L1568.3 1564.5L1571.3 1566.2L1577.1 1566.2L1578.7 1565.6L1581.1 1563.1L1581.8 1561.5L1582.0 1557.1L1583.4 1557.2L1586.0 1556.6L1588.6 1557.2L1591.1 1557.0L1594.1 1555.2L1595.8 1552.3L1596.0 1543.8L1598.3 1546.1L1599.9 1546.7L1602.0 1547.0L1602.0 1576.5L1602.9 1579.8L1605.3 1582.3L1606.9 1582.9L1613.1 1582.9L1616.1 1581.2L1617.1 1579.8L1618.0 1577.4L1619.9 1578.3L1625.0 1578.5L1628.3 1577.6L1630.0 1576.2L1630.2 1593.6L1630.9 1595.2L1633.3 1597.7L1636.6 1598.6L1639.1 1598.3L1640.7 1597.7L1643.1 1595.2L1643.8 1593.6L1644.0 1589.5L1647.2 1589.4L1648.8 1588.8L1651.3 1586.3L1652.2 1583.0L1652.2 1572.8L1654.4 1572.9L1657.5 1572.1L1661.0 1572.9L1661.2 1575.4L1662.9 1578.4L1665.9 1580.1L1669.8 1580.2L1670.1 1584.7L1671.8 1587.7L1674.8 1589.4L1678.0 1589.5L1678.2 1627.4L1678.9 1629.0L1681.3 1631.4L1684.6 1632.3L1687.4 1632.0L1689.5 1632.3L1691.2 1632.1L1692.8 1631.4L1695.3 1629.0L1696.2 1625.7L1696.2 1615.0L1698.2 1613.7L1699.3 1612.3L1699.9 1610.7L1700.2 1608.0L1702.8 1609.5L1704.5 1609.7L1709.1 1609.5L1711.5 1608.2L1714.1 1609.5L1714.9 1612.3L1717.3 1614.7L1720.6 1615.6L1724.1 1615.4L1725.7 1614.7L1728.1 1612.3L1728.8 1610.7L1729.0 1598.9L1731.5 1598.5L1734.4 1598.9L1737.7 1598.0L1740.1 1595.6L1740.8 1594.0L1741.0 1589.1L1743.5 1589.6L1745.2 1589.4L1746.8 1588.8L1749.3 1586.3L1750.2 1583.0L1750.2 1525.6L1751.9 1526.3L1755.3 1526.6L1755.6 1538.3L1757.3 1541.3L1758.7 1542.4L1761.8 1543.2L1762.1 1564.3L1763.8 1567.3L1765.8 1568.6L1765.8 1651.6L1766.7 1655.0L1769.2 1657.4L1772.5 1658.3L1779.1 1658.1L1780.7 1657.4L1783.1 1655.0L1784.0 1651.6L1784.0 1636.7L1786.1 1634.6L1787.0 1631.2L1787.0 1603.9L1789.6 1604.5L1794.7 1604.3L1796.3 1603.6L1798.8 1601.2L1799.7 1597.8L1799.7 1580.0L1802.2 1578.4L1803.8 1575.7L1803.8 1598.8L1804.7 1602.1L1807.2 1604.5L1810.5 1605.4L1815.4 1605.4L1818.7 1604.5L1820.1 1603.5L1821.1 1602.1L1822.0 1598.8L1822.0 1587.8L1825.5 1587.0L1826.9 1587.6L1831.0 1587.7L1831.0 1609.9L1831.9 1613.2L1834.3 1615.7L1835.9 1616.3L1839.4 1616.5L1842.7 1615.7L1844.1 1614.6L1845.8 1611.6L1846.0 1601.5L1849.3 1601.6L1849.6 1645.9L1850.2 1647.5L1852.7 1650.0L1856.0 1650.9L1859.0 1650.1L1859.2 1669.1L1859.9 1670.7L1862.3 1673.2L1865.6 1674.1L1869.1 1673.8L1870.7 1673.2L1873.1 1670.7L1873.8 1669.1L1874.0 1639.6L1876.3 1638.8L1877.7 1637.8L1879.4 1634.8L1879.7 1614.7L1882.8 1613.8L1884.2 1612.7L1885.9 1609.8L1886.2 1583.7L1888.7 1582.1L1890.4 1579.2L1890.7 1561.6L1892.2 1562.8L1895.5 1563.7L1897.2 1563.4L1899.8 1562.0L1899.8 1578.4L1900.7 1581.7L1903.2 1584.1L1904.8 1584.8L1906.5 1585.0L1909.8 1584.1L1912.3 1581.7L1912.9 1580.1L1913.2 1563.4L1914.0 1563.1L1916.6 1563.7L1919.1 1563.4L1920.7 1562.8L1923.1 1560.3L1924.0 1557.0L1924.0 1543.3L1927.5 1542.5L1930.6 1543.3L1938.8 1543.3L1939.1 1551.3L1940.8 1554.3L1942.2 1555.4L1944.3 1556.1L1944.3 1562.6L1945.2 1565.9L1947.7 1568.3L1949.3 1569.0L1951.3 1569.2L1951.3 1573.7L1952.2 1577.0L1954.7 1579.5L1957.3 1580.3L1957.6 1612.5L1959.3 1615.5L1960.7 1616.6L1963.8 1617.5L1964.1 1626.5L1965.8 1629.4L1968.8 1631.2L1970.5 1631.4L1973.8 1630.5L1976.3 1628.1L1977.2 1624.7L1977.2 1600.6L1979.0 1599.8L1982.4 1599.9L1984.5 1599.5L1987.0 1599.9L1987.2 1607.0L1987.9 1608.6L1990.3 1611.0L1993.6 1611.9L2002.2 1611.8L2004.3 1613.8L2005.9 1614.5L2011.4 1614.7L2014.7 1613.8L2017.1 1611.4L2017.8 1609.8L2018.0 1605.2L2019.9 1606.1L2024.3 1606.3L2024.6 1608.8L2025.2 1610.4L2027.7 1612.9L2029.8 1613.6L2029.8 1626.6L2030.7 1629.9L2031.8 1631.3L2033.2 1632.4L2036.5 1633.2L2040.4 1633.2L2043.5 1632.4L2045.0 1633.0L2045.2 1645.6L2045.9 1647.2L2048.3 1649.6L2051.6 1650.5L2060.5 1650.5L2063.8 1649.6L2066.3 1647.2L2066.9 1645.6L2067.2 1633.2L2074.7 1633.0L2077.7 1631.3L2079.4 1628.3L2079.7 1602.5L2080.8 1602.1L2083.2 1604.5L2086.5 1605.4L2088.2 1605.2L2091.0 1603.6L2091.2 1624.6L2092.9 1627.6L2095.9 1629.3L2100.1 1629.3L2101.7 1628.6L2104.1 1626.2L2105.0 1622.9L2105.0 1610.0L2106.4 1610.1L2109.0 1609.5L2109.0 1614.5L2109.9 1617.9L2112.3 1620.3L2113.9 1621.0L2120.2 1621.0L2121.8 1620.3L2124.3 1617.9L2125.2 1614.5L2125.2 1594.6L2127.2 1593.3L2128.3 1591.9L2129.2 1588.6L2129.2 1512.0L2130.5 1511.1L2130.8 1511.4L2130.8 1519.9L2131.7 1523.2L2134.2 1525.7L2137.0 1526.5L2137.0 1557.0L2137.9 1560.3L2140.3 1562.8L2141.9 1563.4L2145.0 1563.6L2145.2 1573.6L2145.9 1575.2L2148.3 1577.6L2151.6 1578.5L2156.2 1578.3L2159.2 1576.6L2160.8 1573.8L2161.1 1577.3L2161.7 1578.9L2164.2 1581.3L2167.0 1582.2L2167.0 1594.1L2167.9 1597.5L2170.3 1599.9L2171.9 1600.6L2177.1 1600.6L2180.1 1598.8L2181.8 1595.9L2182.0 1594.1L2182.0 1583.0L2185.2 1582.9L2186.8 1582.3L2189.3 1579.8L2189.9 1578.2L2190.2 1550.6L2193.0 1550.6L2193.2 1559.7L2193.9 1561.3L2196.3 1563.7L2199.6 1564.6L2208.1 1564.4L2209.7 1563.7L2212.1 1561.3L2213.0 1558.0L2213.0 1522.7L2214.9 1523.6L2216.6 1523.8L2222.2 1523.5L2223.9 1526.5L2226.9 1528.2L2231.1 1528.2L2234.0 1526.5L2234.3 1526.8L2234.3 1549.6L2235.2 1552.9L2236.8 1554.7L2237.1 1581.0L2238.8 1584.0L2240.2 1585.0L2242.3 1585.8L2242.3 1603.4L2243.2 1606.7L2245.7 1609.2L2247.3 1609.8L2249.0 1610.1L2251.0 1609.7L2251.0 1662.8L2251.2 1664.5L2252.9 1667.5L2254.3 1668.5L2257.6 1669.4L2260.1 1669.2L2261.7 1668.5L2264.1 1666.1L2264.8 1664.5L2265.0 1621.1L2267.8 1620.3L2269.2 1619.2L2270.9 1616.3L2271.2 1571.0L2272.8 1568.2L2273.1 1571.7L2273.7 1573.3L2275.8 1575.5L2275.8 1655.0L2276.1 1656.7L2277.8 1659.7L2279.2 1660.7L2282.5 1661.6L2286.4 1661.6L2289.7 1660.7L2292.1 1658.3L2292.8 1656.7L2293.0 1630.3L2295.7 1630.2L2297.3 1629.6L2299.8 1627.1L2300.4 1625.5L2300.7 1605.9L2303.2 1604.4L2304.3 1603.0L2305.2 1599.7L2305.2 1580.9L2307.3 1582.0L2309.0 1582.2L2312.0 1581.5L2312.0 1585.8L2312.9 1589.1L2315.3 1591.5L2316.9 1592.2L2321.0 1592.3L2321.2 1600.5L2322.9 1603.5L2325.9 1605.2L2330.1 1605.2L2331.7 1604.5L2334.1 1602.1L2335.0 1598.8L2335.0 1592.2L2336.9 1593.1L2343.4 1593.4L2346.7 1592.5L2348.5 1590.8L2350.0 1592.2L2350.2 1595.9L2351.9 1598.8L2353.3 1599.9L2356.6 1600.8L2360.1 1600.6L2361.7 1599.9L2364.1 1597.5L2364.8 1595.9L2365.0 1592.8L2367.0 1593.3L2367.2 1607.9L2367.9 1609.5L2370.3 1611.9L2371.9 1612.6L2374.4 1612.8L2377.7 1611.9L2380.1 1609.5L2380.8 1607.9L2381.0 1583.9L2383.3 1583.2L2384.7 1582.1L2386.4 1579.2L2386.7 1577.4L2386.7 1533.1L2389.1 1530.7L2390.0 1527.3L2390.0 1478.5L2389.1 1475.2L2386.7 1472.7L2383.4 1471.8L2378.3 1472.1L2376.7 1472.7L2374.2 1475.2L2373.3 1478.5L2373.3 1506.2L2365.9 1506.4L2363.0 1508.1L2362.0 1507.3L2361.8 1471.2L2360.1 1468.2L2357.1 1466.5L2353.6 1466.3L2350.3 1467.2L2347.9 1469.6L2347.2 1471.2L2347.0 1498.9L2345.1 1498.0L2338.6 1497.8L2335.3 1498.7L2333.5 1500.3L2332.0 1499.0L2332.0 1479.4L2331.1 1476.1L2328.7 1473.7L2325.4 1472.8L2322.9 1473.0L2319.9 1474.7L2318.2 1477.7L2318.0 1479.4L2318.0 1510.0L2315.7 1510.6L2315.7 1489.6L2314.8 1486.3L2312.3 1483.9L2310.7 1483.2L2306.5 1483.0L2303.2 1483.9L2301.8 1484.9L2300.1 1487.8L2296.8 1487.8L2293.8 1489.6L2292.1 1492.5L2291.8 1523.3L2290.7 1523.7L2288.8 1525.5L2287.2 1522.9L2286.2 1522.1L2285.9 1510.2L2285.3 1508.6L2282.8 1506.1L2279.5 1505.2L2273.9 1505.5L2270.9 1507.2L2269.4 1509.7L2266.5 1508.9L2262.8 1509.2L2261.2 1509.8L2258.7 1512.3L2257.8 1515.6L2257.8 1547.0L2255.7 1547.3L2255.7 1493.3L2255.4 1491.6L2253.7 1488.6L2252.3 1487.6L2250.2 1486.8L2250.2 1458.1L2249.9 1456.4L2248.2 1453.4L2245.2 1451.7L2236.9 1451.7L2235.3 1452.3L2232.9 1454.8L2232.2 1456.4L2232.0 1458.5L2229.4 1457.9L2227.0 1458.1L2226.8 1443.9L2226.1 1442.3L2223.7 1439.9L2220.4 1439.0L2216.6 1439.0L2213.3 1439.9L2210.9 1442.3L2210.2 1443.9L2210.0 1448.8L2208.1 1447.9L2206.4 1447.7L2199.0 1447.8L2199.0 1437.7L2198.1 1434.3L2195.7 1431.9L2194.1 1431.2L2190.6 1431.0L2187.3 1431.9L2184.9 1434.3L2184.0 1437.7L2184.0 1479.3L2181.8 1479.5L2178.8 1481.2L2177.1 1484.2L2176.8 1491.5L2174.2 1491.3L2173.9 1463.2L2172.2 1460.2L2169.2 1458.5L2163.9 1458.5L2160.9 1460.2L2159.2 1463.2L2159.0 1467.1L2156.2 1465.6L2154.5 1465.3L2151.2 1466.2L2149.8 1467.3L2148.1 1470.3L2147.8 1480.3L2146.1 1479.5L2144.2 1479.3L2143.9 1456.4L2142.2 1453.4L2139.2 1451.7L2134.6 1451.4L2132.0 1452.0L2131.8 1426.1L2131.1 1424.5L2128.7 1422.1L2127.1 1421.4L2122.5 1421.2L2119.2 1422.1L2117.8 1423.1L2116.1 1426.1L2115.8 1427.8L2115.8 1499.3L2113.8 1500.7L2112.1 1503.7L2111.8 1524.1L2111.0 1524.8L2108.1 1523.1L2103.9 1523.1L2102.3 1523.7L2099.9 1526.2L2099.0 1529.5L2099.0 1547.1L2095.9 1547.2L2093.2 1548.8L2092.9 1531.5L2092.3 1529.9L2089.8 1527.5L2088.2 1526.8L2085.0 1526.8L2085.0 1485.9L2084.1 1482.6L2081.7 1480.1L2078.4 1479.3L2075.9 1479.5L2072.9 1481.2L2071.2 1484.2L2071.0 1528.8L2068.3 1530.4L2066.6 1533.4L2066.3 1555.4L2063.3 1556.2L2061.9 1557.3L2060.2 1560.3L2060.0 1573.0L2057.1 1573.9L2051.6 1573.9L2049.5 1574.3L2046.6 1573.9L2043.5 1574.7L2043.2 1574.6L2042.9 1557.5L2041.2 1554.5L2039.8 1553.4L2037.7 1552.7L2037.4 1550.0L2036.8 1548.4L2034.3 1546.0L2031.0 1545.1L2019.9 1545.3L2018.3 1546.0L2015.9 1548.4L2015.2 1550.0L2015.0 1552.7L2013.1 1551.8L2008.0 1551.6L2007.8 1532.4L2007.1 1530.8L2004.7 1528.4L2001.4 1527.5L1993.9 1527.7L1992.3 1528.4L1989.9 1530.8L1989.0 1534.2L1985.0 1534.2L1984.8 1526.3L1983.1 1523.3L1980.1 1521.6L1975.5 1521.4L1972.2 1522.3L1969.7 1524.7L1969.1 1526.3L1968.8 1528.6L1967.3 1527.5L1964.7 1526.7L1964.7 1520.2L1963.8 1516.9L1961.3 1514.5L1959.7 1513.8L1957.7 1513.6L1957.7 1507.2L1956.8 1503.9L1954.3 1501.5L1952.2 1500.7L1952.2 1472.0L1951.3 1468.7L1948.8 1466.2L1947.2 1465.6L1930.9 1465.6L1927.9 1467.3L1926.2 1470.3L1926.0 1477.6L1923.6 1477.4L1920.3 1478.3L1917.9 1480.7L1917.2 1482.3L1917.0 1501.0L1914.0 1501.6L1910.6 1501.0L1907.3 1501.9L1904.9 1504.3L1904.2 1505.9L1904.0 1510.4L1901.6 1512.1L1900.2 1510.0L1898.8 1508.9L1896.0 1508.1L1896.0 1485.0L1895.1 1481.7L1892.7 1479.2L1889.4 1478.3L1882.3 1478.6L1880.7 1479.2L1878.2 1481.7L1877.3 1485.0L1877.3 1499.1L1874.8 1500.7L1873.7 1502.1L1872.8 1505.4L1872.8 1571.1L1869.7 1572.0L1868.3 1573.0L1866.6 1576.0L1866.3 1598.9L1863.9 1599.2L1862.7 1599.7L1862.7 1527.7L1861.8 1524.3L1860.7 1522.9L1857.7 1521.2L1855.0 1521.1L1855.0 1503.5L1854.1 1500.2L1853.1 1498.8L1850.1 1497.1L1847.6 1496.9L1844.3 1497.8L1841.9 1500.2L1841.0 1503.5L1841.0 1515.7L1840.0 1515.5L1840.0 1511.9L1839.1 1508.6L1836.7 1506.1L1835.1 1505.5L1831.6 1505.2L1828.3 1506.1L1826.9 1507.2L1825.9 1508.6L1825.0 1511.9L1825.0 1533.7L1821.6 1533.1L1818.5 1533.9L1817.2 1533.3L1816.9 1512.9L1816.3 1511.3L1813.8 1508.9L1812.2 1508.2L1809.0 1508.2L1808.8 1475.8L1807.1 1472.9L1804.1 1471.1L1795.8 1471.1L1792.8 1472.9L1791.1 1475.8L1790.8 1495.4L1788.3 1497.0L1786.6 1500.0L1786.3 1525.1L1783.4 1524.3L1779.2 1524.4L1778.9 1518.5L1777.2 1515.5L1775.2 1514.2L1774.9 1500.9L1773.2 1497.9L1771.8 1496.8L1768.7 1496.0L1768.4 1470.3L1767.8 1468.7L1765.3 1466.2L1762.0 1465.3L1762.0 1406.7L1761.1 1403.4L1758.7 1400.9L1755.4 1400.0L1751.9 1400.3L1748.9 1402.0L1747.2 1405.0L1747.0 1465.4L1745.2 1464.6L1741.8 1464.6L1738.8 1466.4L1737.1 1469.3L1736.8 1499.3L1736.0 1499.0L1736.0 1495.2L1735.1 1491.9L1732.7 1489.4L1729.4 1488.5L1725.9 1488.8L1724.3 1489.4L1721.9 1491.9L1721.0 1495.2L1721.0 1545.1L1718.5 1545.5L1716.4 1545.1L1713.9 1545.3L1711.5 1546.6L1711.2 1546.4L1711.2 1498.0L1710.3 1494.6L1709.2 1493.3L1706.2 1491.5L1704.0 1491.4L1704.0 1465.5L1703.1 1462.2L1702.1 1460.8L1700.7 1459.7L1697.4 1458.8L1691.8 1459.1L1688.8 1460.8L1687.1 1463.8L1686.8 1473.4L1684.8 1474.7L1683.7 1476.1L1682.9 1478.9L1681.2 1476.0L1678.2 1474.3L1672.6 1474.1L1670.5 1474.5L1668.0 1474.1L1665.7 1471.8L1662.4 1470.9L1658.9 1471.1L1655.9 1472.9L1654.2 1475.8L1654.0 1487.2L1651.0 1487.8L1648.4 1487.2L1643.8 1487.5L1640.8 1489.2L1639.1 1492.2L1638.8 1528.6L1636.0 1528.5L1636.0 1465.5L1635.1 1462.2L1632.7 1459.7L1629.4 1458.8L1626.9 1459.1L1623.9 1460.8L1622.9 1462.2L1622.0 1465.5L1622.0 1477.2L1620.3 1478.4L1618.6 1481.4L1618.3 1488.9L1618.0 1489.1L1616.1 1488.2L1614.4 1488.0L1609.0 1488.0L1608.8 1456.9L1607.1 1453.9L1604.1 1452.2L1601.6 1452.0L1598.3 1452.9L1595.9 1455.3L1595.0 1458.6L1595.0 1490.8L1592.7 1488.5L1590.0 1487.7L1589.8 1480.5L1588.1 1477.5L1585.1 1475.8L1582.6 1475.5L1579.7 1476.3L1579.4 1459.1L1578.8 1457.5L1576.3 1455.1L1573.0 1454.2L1573.0 1393.5L1572.1 1390.2L1571.1 1388.8L1569.7 1387.8L1566.4 1386.9L1563.9 1387.1L1560.9 1388.8L1559.9 1390.2L1559.0 1393.5L1559.0 1469.7L1556.4 1469.1L1552.0 1469.3L1551.8 1464.7L1551.1 1463.1L1548.7 1460.7L1546.0 1459.9L1545.8 1457.3L1544.1 1454.3L1541.1 1452.6L1538.6 1452.4L1536.0 1453.0L1535.8 1445.8L1535.1 1444.2L1532.7 1441.7L1531.1 1441.1L1528.6 1440.9L1525.3 1441.7L1523.9 1442.8L1522.2 1445.8L1522.0 1455.2L1519.1 1453.5L1516.0 1453.3L1515.8 1442.8L1514.1 1439.8L1511.1 1438.1L1506.6 1437.9L1504.5 1438.3L1499.7 1437.9L1499.4 1430.0L1497.7 1427.0L1494.7 1425.3L1486.8 1425.3L1483.8 1427.0L1482.1 1430.0L1481.8 1441.3L1479.2 1442.1L1477.8 1443.2L1476.1 1446.2L1475.8 1484.9L1473.2 1485.7L1471.2 1487.6L1471.2 1481.3L1470.3 1477.9L1467.8 1475.5L1465.7 1474.8L1465.4 1433.5L1463.7 1430.6L1460.7 1428.8L1451.9 1428.8L1448.9 1430.6L1447.2 1433.5L1447.0 1436.0L1444.3 1437.6L1442.6 1440.6L1442.3 1459.7L1442.0 1460.0L1440.1 1459.1L1436.6 1458.8L1433.3 1459.7L1430.9 1462.2L1430.2 1463.8L1430.0 1469.1L1427.0 1470.2L1425.1 1469.3L1423.4 1469.1L1419.3 1469.5L1417.0 1469.1L1413.7 1469.9L1412.3 1471.0L1411.2 1472.4L1410.3 1475.7L1410.3 1488.6L1407.7 1489.4L1406.7 1490.2L1406.4 1483.3L1405.8 1481.7L1403.3 1479.2L1400.0 1478.3L1394.6 1478.3L1392.0 1478.9L1388.0 1478.3L1387.8 1459.1L1387.1 1457.5L1384.7 1455.1L1381.4 1454.2L1378.9 1454.4L1377.3 1455.1L1374.9 1457.5L1374.2 1459.1L1374.0 1461.8L1370.8 1461.9L1367.8 1463.6L1366.7 1465.0L1365.8 1468.3L1365.8 1506.2L1363.8 1506.4L1362.2 1507.1L1359.7 1509.5L1359.1 1511.1L1358.8 1525.9L1356.7 1528.0L1356.1 1529.6L1349.9 1529.6L1346.9 1531.3L1345.2 1534.3L1345.0 1538.8L1343.1 1537.9L1339.7 1537.8L1339.7 1523.0L1338.8 1519.7L1336.3 1517.3L1334.7 1516.6L1333.0 1516.4L1330.7 1516.8L1330.7 1483.7L1329.8 1480.4L1327.3 1477.9L1324.0 1477.0L1318.9 1477.3L1317.3 1477.9L1314.9 1480.4L1314.2 1482.0L1314.0 1489.5L1312.2 1489.5L1312.2 1479.8L1311.3 1476.5L1308.8 1474.0L1307.2 1473.4L1305.5 1473.1L1302.2 1474.0L1299.7 1476.5L1299.1 1478.1L1298.8 1493.4L1295.3 1493.4L1293.7 1494.1L1291.2 1496.5L1290.3 1499.8L1290.3 1508.6L1288.3 1510.0L1287.2 1511.3L1286.6 1512.9L1286.3 1515.6L1281.9 1515.7L1279.0 1517.3L1278.0 1516.6L1277.8 1512.9L1276.1 1510.0L1273.1 1508.2L1270.7 1508.0L1270.7 1485.0L1269.8 1481.7L1267.7 1479.5L1267.7 1446.0L1266.8 1442.7L1265.7 1441.3L1264.2 1440.2L1263.9 1431.3L1263.3 1429.7L1260.8 1427.3L1259.2 1426.6L1257.2 1426.4L1256.9 1417.0L1255.2 1414.0L1252.2 1412.3L1244.9 1412.3L1241.9 1414.0L1240.2 1417.0L1240.0 1427.5L1238.1 1426.6L1235.0 1426.5L1234.8 1397.0L1234.1 1395.4L1231.7 1393.0L1228.4 1392.1L1225.9 1392.3L1224.3 1393.0L1221.9 1395.4L1221.0 1398.7L1221.0 1441.3L1217.6 1441.2L1214.3 1442.1L1211.9 1444.5L1211.2 1446.2L1211.0 1448.7L1208.4 1448.1L1203.6 1448.1L1201.3 1448.6L1199.0 1448.1L1197.3 1448.3L1195.7 1449.0L1193.2 1451.4L1192.6 1453.0L1192.3 1456.1L1190.6 1459.1L1190.3 1469.1L1187.9 1469.3L1184.9 1471.0L1183.2 1474.0L1183.0 1477.5L1180.7 1479.8L1180.1 1481.4L1179.8 1505.4L1173.6 1505.2L1170.3 1506.1L1167.9 1508.6L1167.2 1510.2L1167.0 1514.5L1166.1 1511.3L1165.1 1510.0L1162.1 1508.2L1157.9 1508.2L1156.3 1508.9L1154.8 1510.1L1153.2 1497.4L1147.0 1474.7L1141.5 1447.0L1136.6 1433.0L1130.4 1410.1L1126.8 1381.9L1119.3 1345.1L1118.5 1342.6L1117.0 1340.4L1115.8 1339.3L1110.0 1289.8L1105.0 1260.5L1098.0 1228.7L1090.0 1178.7L1069.1 1058.9L1047.8 899.1L1029.1 749.1L1011.1 599.1L1007.4 576.9L999.1 521.0L997.6 517.6L996.3 516.3L992.8 514.9L989.2 515.4L989.2 510.7L988.3 507.4L985.8 505.0L983.6 504.2L982.2 501.9L980.8 500.9L977.5 500.0L974.2 500.9L971.7 503.3L971.1 504.9L970.8 506.8L968.8 505.0L967.0 504.3L966.8 446.9L965.1 443.9L962.1 442.2L956.9 442.2L954.5 443.4L952.0 442.1L951.8 404.7L950.1 401.8L947.1 400.0L945.4 399.8L941.5 399.8L938.2 400.7L935.7 403.1L934.8 406.5L934.8 567.3L931.8 567.4L928.8 569.1L927.1 572.1L926.8 574.9L923.4 574.2L919.3 574.4L916.3 576.2L914.6 579.1L914.3 597.3L911.8 598.8L910.7 600.2L909.8 603.5L909.8 627.9L907.8 628.1L906.2 628.7L903.7 631.2L903.1 632.8L902.8 645.1L900.1 644.5L900.6 626.3L900.5 624.4L898.7 621.1L897.3 619.9L893.8 618.9L890.1 619.7L887.4 622.2L886.4 625.7L885.1 628.1L884.8 629.8L884.8 700.5L883.9 759.9L882.4 920.0L881.5 1525.2L879.8 1523.7L877.0 1522.9L877.0 1498.5L876.1 1495.2L873.7 1492.8L872.1 1492.1L865.5 1491.9L862.2 1492.8L859.7 1495.2L859.1 1496.8L858.8 1504.1L857.7 1502.5L857.4 1479.5L855.7 1476.6L854.3 1475.5L852.0 1474.8L852.0 1469.8L851.1 1466.4L848.7 1464.0L847.1 1463.3L842.9 1463.3L841.3 1464.0L838.9 1466.4L838.0 1469.8L838.0 1480.2L833.9 1480.4L832.3 1481.1L829.9 1483.5L829.2 1485.1L829.0 1500.6L827.2 1503.7L827.0 1506.8L824.4 1506.2L822.0 1506.2L822.0 1479.4L821.1 1476.1L820.1 1474.7L818.0 1473.4L817.8 1427.2L817.1 1425.6L814.7 1423.2L811.4 1422.3L807.5 1422.3L804.2 1423.2L801.7 1425.6L801.1 1427.2L800.8 1455.0L799.3 1456.2L798.2 1457.5L797.3 1460.9L797.3 1491.1L796.5 1491.3L793.6 1490.9L790.3 1491.8L787.9 1494.3L787.2 1495.9L787.0 1499.5L784.0 1498.7L782.3 1499.0L779.3 1500.7L777.6 1503.7L777.3 1510.1L774.3 1511.8L772.6 1514.8L772.3 1552.7L771.2 1553.1L771.2 1548.1L770.3 1544.7L769.2 1543.4L767.0 1542.0L766.8 1530.9L766.1 1529.3L763.7 1526.9L760.4 1526.0L757.9 1526.2L754.9 1528.0L753.2 1530.9L750.5 1530.3L747.2 1531.2L744.7 1533.6L743.9 1536.2L743.3 1534.5L740.8 1532.1L737.5 1531.2L735.7 1531.5L735.7 1508.7L734.8 1505.4L732.3 1503.0L730.7 1502.3L725.6 1502.1L722.3 1503.0L720.9 1504.0L719.2 1507.0L719.0 1517.8L716.5 1517.3L714.8 1517.5L712.7 1518.6L712.4 1514.8L711.2 1512.4L710.9 1488.8L709.2 1485.8L707.7 1484.7L707.7 1438.0L707.4 1436.3L705.7 1433.3L702.7 1431.6L695.9 1431.6L692.9 1433.3L691.2 1436.3L691.0 1467.4L688.0 1469.1L687.8 1451.7L686.1 1448.7L683.0 1447.0L682.8 1442.1L681.1 1439.1L678.1 1437.4L670.8 1437.4L667.8 1439.1L666.1 1442.1L665.8 1524.7L663.0 1525.3L663.0 1513.7L662.8 1512.0L661.1 1509.0L658.1 1507.3L653.2 1507.2L652.9 1505.2L651.2 1502.2L649.8 1501.1L646.5 1500.2L641.9 1500.4L640.3 1501.1L637.9 1503.5L637.2 1505.2L637.0 1527.5L636.1 1524.3L633.7 1521.9L630.4 1521.0L627.0 1521.2L626.8 1472.1L625.1 1469.1L622.1 1467.4L610.5 1467.2L607.2 1468.1L605.8 1469.1L604.1 1472.1L603.8 1473.8L603.7 1528.8L603.7 1500.8L602.8 1497.4L600.3 1495.0L598.7 1494.3L593.6 1494.1L591.9 1494.3L590.0 1495.2L589.8 1492.2L589.1 1490.6L586.7 1488.1L585.1 1487.5L580.9 1487.5L579.3 1488.1L576.9 1490.6L576.0 1493.9L576.0 1506.4L574.2 1507.1L571.7 1509.5L571.1 1511.1L570.8 1514.8L570.0 1515.5L567.1 1513.8L562.7 1513.6L562.4 1505.5L560.7 1502.5L557.7 1500.8L557.4 1483.3L555.7 1480.3L554.3 1479.2L551.7 1478.4L551.7 1469.2L550.8 1465.9L548.3 1463.5L546.7 1462.8L541.6 1462.6L539.9 1462.8L538.0 1463.7L537.8 1416.1L537.1 1414.5L534.7 1412.1L533.1 1411.4L529.6 1411.2L526.3 1412.1L523.9 1414.5L523.2 1416.1L523.0 1441.4L520.6 1441.2L517.3 1442.1L514.9 1444.5L514.2 1446.2L514.0 1475.5L511.9 1475.8L510.3 1476.4L507.9 1478.9L507.0 1482.2L507.0 1486.1L505.0 1485.8L501.7 1486.6L500.3 1487.7L498.6 1490.7L498.3 1523.3L496.5 1524.4L494.1 1523.1L492.4 1522.9L489.9 1523.1L488.3 1523.7L485.9 1526.2L485.0 1529.4L485.0 1522.1L484.1 1518.8L481.7 1516.3L480.1 1515.7L474.8 1515.7L471.8 1517.4L470.1 1520.4L469.8 1533.9L467.1 1532.4L465.2 1532.1L465.2 1516.5L464.3 1513.2L461.8 1510.8L458.5 1509.9L455.2 1510.8L453.0 1512.8L453.0 1489.1L452.1 1485.7L449.7 1483.3L448.1 1482.6L440.8 1482.6L437.8 1484.4L436.1 1487.3L435.8 1521.0L432.7 1521.9L431.3 1522.9L429.6 1525.9L429.3 1544.1L427.8 1545.2L426.1 1548.2L425.8 1553.6L424.1 1552.8L420.0 1552.8L419.3 1550.3L418.2 1548.9L415.7 1547.4L415.4 1494.4L413.7 1491.4L410.7 1489.7L400.6 1489.5L398.0 1490.1L397.8 1471.2L396.1 1468.2L393.1 1466.5L389.0 1466.3L385.7 1467.2L384.3 1468.2L382.6 1471.2L382.3 1495.1L379.8 1495.3L376.8 1497.0L375.1 1500.0L374.8 1501.7L374.8 1534.2L368.6 1534.0L366.7 1534.3L366.4 1514.8L364.7 1511.8L363.3 1510.8L360.0 1509.9L360.0 1483.1L359.1 1479.8L356.7 1477.4L355.1 1476.7L349.9 1476.7L348.3 1477.4L345.9 1479.8L345.2 1481.4L345.0 1484.0L341.2 1484.0L340.9 1411.3L339.2 1408.3L336.2 1406.6L328.6 1406.3L325.3 1407.2L323.9 1408.3Z" fill="#0000ff" stroke="none" fill-rule="evenodd"/>
<g fill="#262626" font-size="66.67px">
<text transform="translate(247.40 1831.20) scale(0.975 1)" text-anchor="middle">0.6</text>
<text transform="translate(460.80 1831.20) scale(0.975 1)" text-anchor="middle">0.7</text>
<text transform="translate(674.20 1831.20) scale(0.975 1)" text-anchor="middle">0.8</text>
<text transform="translate(887.60 1831.20) scale(0.975 1)" text-anchor="middle">0.9</text>
<text transform="translate(1101.00 1831.20) scale(0.975 1)" text-anchor="middle">1</text>
<text transform="translate(1314.40 1831.20) scale(0.975 1)" text-anchor="middle">1.1</text>
<text transform="translate(1527.80 1831.20) scale(0.975 1)" text-anchor="middle">1.2</text>
<text transform="translate(1741.20 1831.20) scale(0.975 1)" text-anchor="middle">1.3</text>
<text transform="translate(1954.60 1831.20) scale(0.975 1)" text-anchor="middle">1.4</text>
<text transform="translate(2168.00 1831.20) scale(0.975 1)" text-anchor="middle">1.5</text>
<text transform="translate(2381.40 1831.20) scale(0.975 1)" text-anchor="middle">1.6</text>
<text transform="translate(219.40 76.80) scale(0.975 1)" text-anchor="end">10</text>
<text transform="translate(219.40 245.44) scale(0.975 1)" text-anchor="end">5</text>
<text transform="translate(219.40 414.08) scale(0.975 1)" text-anchor="end">0</text>
<text transform="translate(219.40 582.72) scale(0.975 1)" text-anchor="end">-5</text>
<text transform="translate(219.40 751.36) scale(0.975 1)" text-anchor="end">-10</text>
<text transform="translate(219.40 920.00) scale(0.975 1)" text-anchor="end">-15</text>
<text transform="translate(219.40 1088.64) scale(0.975 1)" text-anchor="end">-20</text>
<text transform="translate(219.40 1257.28) scale(0.975 1)" text-anchor="end">-25</text>
<text transform="translate(219.40 1425.92) scale(0.975 1)" text-anchor="end">-30</text>
<text transform="translate(219.40 1594.56) scale(0.975 1)" text-anchor="end">-35</text>
<text transform="translate(219.40 1763.20) scale(0.975 1)" text-anchor="end">-40</text>
<text transform="translate(2229.70 1945.00) scale(1.04 1)">×</text>
<text transform="translate(2281.00 1938.00) scale(0.975 1)">10</text>
<text transform="translate(2354.00 1908.00) scale(0.975 1)" font-size="53.3px">5</text>
</g>
<g fill="#262626" font-size="73.33px">
<text transform="translate(1314.50 1926.00) scale(0.973 1)" text-anchor="middle">Iterations</text>
<text transform="translate(83.90 893.50) rotate(-90) scale(0.983 1)" text-anchor="middle">Normalized misalignment (dB)</text>
</g>
<rect x="1300" y="103.6" width="1027.5" height="236" fill="#fff" stroke="#262626" stroke-width="4"/>
<path d="M1320 167H1508" stroke="#ff0000" stroke-width="13.5" stroke-dasharray="10.4 9.3" fill="none"/>
<path d="M1320 276H1517" stroke="#0000ff" stroke-width="13.5" fill="none"/>
<g fill="#000" font-size="60px">
<text transform="translate(1532.00 177.00) scale(0.975 1)">RLS-DCD-T,</text>
<text transform="translate(1881.50 177.00) scale(0.975 1)">k</text>
<text transform="translate(1916.00 206.70) scale(0.975 1)" font-size="48px">1</text>
<text transform="translate(1945.00 182.50) scale(0.975 1)">=</text>
<text transform="translate(1978.50 177.00) scale(0.975 1)">k</text>
<text transform="translate(2013.00 206.70) scale(0.975 1)" font-size="48px">2</text>
<text transform="translate(2042.00 182.50) scale(0.975 1)">=</text>
<text transform="translate(2076.50 177.00) scale(0.975 1)">k</text>
<text transform="translate(2111.00 206.70) scale(0.975 1)" font-size="48px">3</text>
<text transform="translate(2140.00 182.50) scale(0.975 1)">=</text>
<text transform="translate(2175.00 177.00) scale(0.975 1)">k</text>
<text transform="translate(2209.50 206.70) scale(0.975 1)" font-size="48px">4</text>
<text transform="translate(2238.50 182.50) scale(0.975 1)">=</text>
<text transform="translate(2274.00 177.00) scale(0.975 1)">8</text>
<text transform="translate(1532.00 286.00) scale(0.975 1)">RLS-T,</text>
<text transform="translate(1734.50 286.00) scale(0.975 1)">k</text>
<text transform="translate(1769.00 315.70) scale(0.975 1)" font-size="48px">1</text>
<text transform="translate(1798.00 291.50) scale(0.975 1)">=</text>
<text transform="translate(1831.00 286.00) scale(0.975 1)">k</text>
<text transform="translate(1865.50 315.70) scale(0.975 1)" font-size="48px">2</text>
<text transform="translate(1894.50 291.50) scale(0.975 1)">=</text>
<text transform="translate(1929.50 286.00) scale(0.975 1)">k</text>
<text transform="translate(1964.00 315.70) scale(0.975 1)" font-size="48px">3</text>
<text transform="translate(1993.00 291.50) scale(0.975 1)">=</text>
<text transform="translate(2027.50 286.00) scale(0.975 1)">k</text>
<text transform="translate(2062.00 315.70) scale(0.975 1)" font-size="48px">4</text>
<text transform="translate(2091.00 291.50) scale(0.975 1)">=</text>
<text transform="translate(2126.50 286.00) scale(0.975 1)">8</text>
</g>
<path d="M1086.71 1825.42H1099.42v6.98H1086.71ZM1104.87 1825.42H1117.07v6.98H1104.87ZM1273.00 1825.42H1285.71v6.98H1273.00ZM1291.16 1825.42H1303.37v6.98H1291.16ZM1327.21 1825.42H1339.93v6.98H1327.21ZM1345.37 1825.42H1357.58v6.98H1345.37ZM1486.40 1825.42H1499.11v6.98H1486.40ZM1504.56 1825.42H1516.77v6.98H1504.56ZM1699.80 1825.42H1712.51v6.98H1699.80ZM1717.96 1825.42H1730.17v6.98H1717.96ZM1913.20 1825.42H1925.91v6.98H1913.20ZM1931.36 1825.42H1943.57v6.98H1931.36ZM2126.60 1825.42H2139.31v6.98H2126.60ZM2144.76 1825.42H2156.97v6.98H2144.76ZM2340.00 1825.42H2352.71v6.98H2340.00ZM2358.16 1825.42H2370.37v6.98H2358.16ZM150.88 71.02H163.59v6.98H150.88ZM169.04 71.02H181.24v6.98H169.04ZM150.88 745.58H163.59v6.98H150.88ZM169.04 745.58H181.24v6.98H169.04ZM150.88 914.22H163.59v6.98H150.88ZM169.04 914.22H181.24v6.98H169.04ZM2284.78 1932.22H2297.50v6.98H2284.78ZM2302.94 1932.22H2315.15v6.98H2302.94ZM1918.39 202.31H1927.92v5.59H1918.39ZM1931.75 202.31H1940.91v5.59H1931.75ZM1771.39 311.31H1780.92v5.59H1771.39ZM1784.75 311.31H1793.91v5.59H1784.75Z" fill="#fff"/>
</svg>
</body></html>
